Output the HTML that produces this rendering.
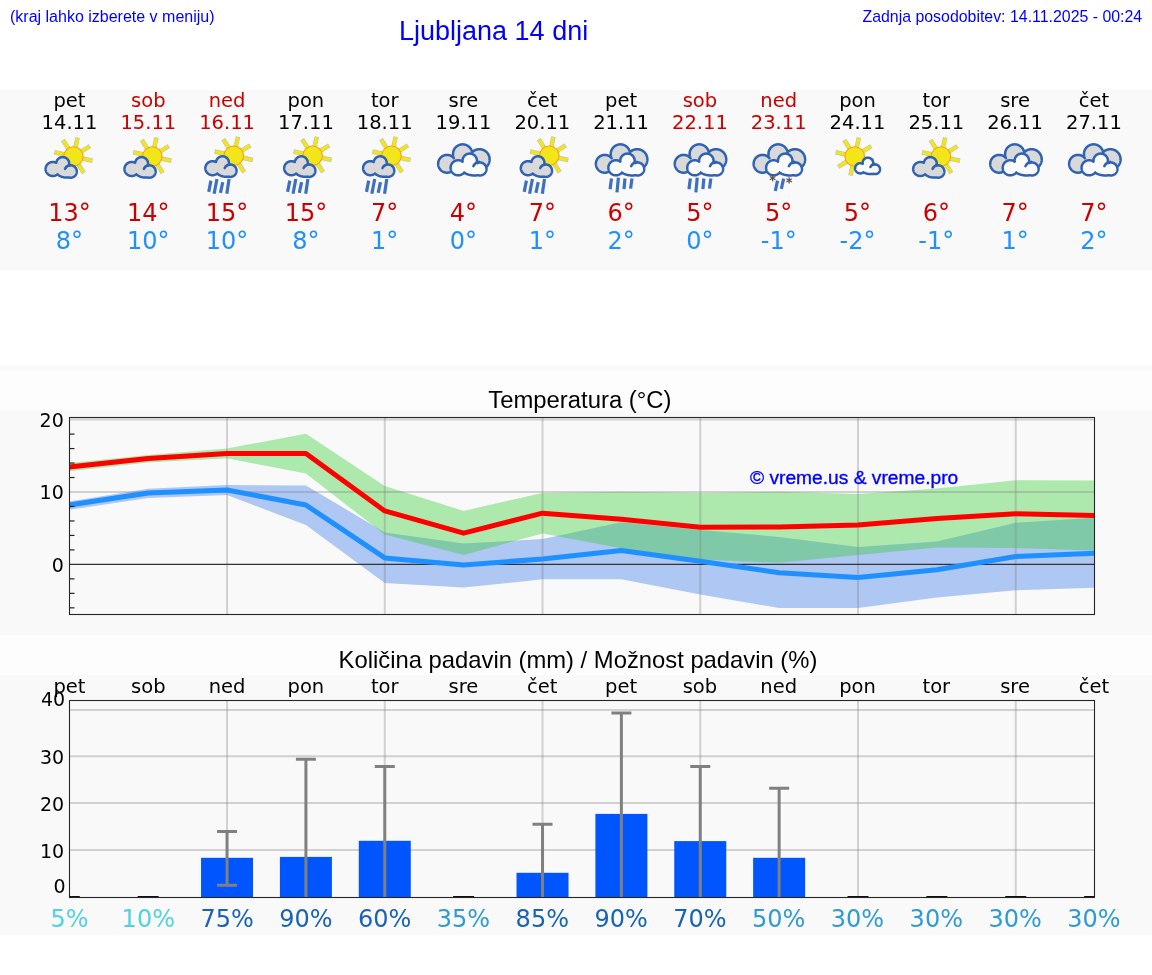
<!DOCTYPE html>
<html><head><meta charset="utf-8"><title>Ljubljana 14 dni</title>
<style>
html,body{margin:0;padding:0}
body{width:1152px;height:975px;position:relative;overflow:hidden;background:#fff;font-family:"Liberation Sans",Arial,sans-serif}
.a{position:absolute;white-space:nowrap;line-height:1}
.band{position:absolute;left:0;width:1152px;background:#f9f9f9}
.c{position:absolute;width:78.8px;text-align:center;font-family:"DejaVu Sans",sans-serif;white-space:nowrap}
.d{top:89.5px;font-size:19.5px;line-height:22px}
.t{top:199px;font-size:24px;line-height:28px}
.pd{top:675.5px;font-size:19.5px;line-height:22px;color:#000}
.pp{top:905px;font-size:24px;line-height:28px}
.tl{font-family:"DejaVu Sans",sans-serif;font-size:19px;fill:#000}
.cp{font-family:"Liberation Sans",Arial,sans-serif;font-size:19.2px;fill:#0000ff;stroke:#0000ff;stroke-width:0.35px}
svg{position:absolute;left:0;top:0}
</style></head><body>
<div id="root" style="position:absolute;left:0;top:0;width:1152px;height:975px;will-change:transform">
<div class="band" style="top:90px;height:180px"></div>
<div class="band" style="top:365px;height:5px"></div>
<div class="band" style="top:370px;height:40px;background:#fdfdfd"></div>
<div class="band" style="top:635px;height:40px;background:#fdfdfd"></div>
<div class="band" style="top:410px;height:225px"></div>
<div class="band" style="top:675px;height:260px"></div>
<div class="a" style="left:10px;top:9px;font-size:16px;color:#0000ff">(kraj lahko izberete v meniju)</div>
<div class="a" style="left:399px;top:18px;font-size:27px;color:#0000ff">Ljubljana 14 dni</div>
<div class="a" style="right:9.8px;top:9px;font-size:15.9px;color:#0000ff">Zadnja posodobitev: 14.11.2025 - 00:24</div>
<div class="a" style="left:488.3px;top:388.2px;font-size:23.85px;color:#000">Temperatura (°C)</div>
<div class="a" style="left:338.6px;top:648.2px;font-size:23.8px;color:#000">Količina padavin (mm) / Možnost padavin (%)</div>
<svg width="1152" height="975" viewBox="0 0 1152 975">
<g transform="translate(38.00,133)"><line x1="43.21" y1="25.25" x2="52.28" y2="27.27" stroke="#8c8c6a" stroke-width="4.5" stroke-opacity="0.5" stroke-linecap="square"/><line x1="43.21" y1="25.25" x2="52.28" y2="27.27" stroke="#f2e61a" stroke-width="3.3" stroke-linecap="square"/><line x1="39.69" y1="30.25" x2="44.67" y2="38.11" stroke="#8c8c6a" stroke-width="4.5" stroke-opacity="0.5" stroke-linecap="square"/><line x1="39.69" y1="30.25" x2="44.67" y2="38.11" stroke="#f2e61a" stroke-width="3.3" stroke-linecap="square"/><line x1="33.65" y1="31.31" x2="31.63" y2="40.38" stroke="#8c8c6a" stroke-width="4.5" stroke-opacity="0.5" stroke-linecap="square"/><line x1="33.65" y1="31.31" x2="31.63" y2="40.38" stroke="#f2e61a" stroke-width="3.3" stroke-linecap="square"/><line x1="28.65" y1="27.79" x2="20.79" y2="32.77" stroke="#8c8c6a" stroke-width="4.5" stroke-opacity="0.5" stroke-linecap="square"/><line x1="28.65" y1="27.79" x2="20.79" y2="32.77" stroke="#f2e61a" stroke-width="3.3" stroke-linecap="square"/><line x1="27.59" y1="21.75" x2="18.52" y2="19.73" stroke="#8c8c6a" stroke-width="4.5" stroke-opacity="0.5" stroke-linecap="square"/><line x1="27.59" y1="21.75" x2="18.52" y2="19.73" stroke="#f2e61a" stroke-width="3.3" stroke-linecap="square"/><line x1="31.11" y1="16.75" x2="26.13" y2="8.89" stroke="#8c8c6a" stroke-width="4.5" stroke-opacity="0.5" stroke-linecap="square"/><line x1="31.11" y1="16.75" x2="26.13" y2="8.89" stroke="#f2e61a" stroke-width="3.3" stroke-linecap="square"/><line x1="37.15" y1="15.69" x2="39.17" y2="6.62" stroke="#8c8c6a" stroke-width="4.5" stroke-opacity="0.5" stroke-linecap="square"/><line x1="37.15" y1="15.69" x2="39.17" y2="6.62" stroke="#f2e61a" stroke-width="3.3" stroke-linecap="square"/><line x1="42.15" y1="19.21" x2="50.01" y2="14.23" stroke="#8c8c6a" stroke-width="4.5" stroke-opacity="0.5" stroke-linecap="square"/><line x1="42.15" y1="19.21" x2="50.01" y2="14.23" stroke="#f2e61a" stroke-width="3.3" stroke-linecap="square"/><circle cx="35.4" cy="23.5" r="9.7" fill="#f2e61a" stroke="#f6a21e" stroke-width="1.1"/><path d="M31.17 29.96 L31.13 29.65 L31.08 29.33 L31.01 29.02 L30.92 28.71 L30.82 28.41 L30.71 28.11 L30.58 27.82 L30.43 27.54 L30.28 27.26 L30.10 26.99 L29.92 26.73 L29.72 26.48 L29.52 26.23 L29.30 26.00 L29.07 25.78 L28.82 25.58 L28.57 25.38 L28.31 25.20 L28.04 25.02 L27.76 24.87 L27.48 24.72 L27.19 24.59 L26.89 24.48 L26.59 24.38 L26.28 24.29 L25.97 24.22 L25.65 24.17 L25.34 24.13 L25.02 24.11 L24.70 24.10 L24.38 24.11 L24.06 24.13 L23.75 24.17 L23.43 24.22 L23.12 24.29 L22.81 24.38 L22.51 24.48 L22.21 24.59 L21.92 24.72 L21.64 24.87 L21.36 25.02 L21.09 25.20 L20.83 25.38 L20.58 25.58 L20.33 25.78 L20.10 26.00 L19.88 26.23 L19.68 26.48 L19.48 26.73 L19.30 26.99 L19.12 27.26 L18.97 27.54 L18.82 27.82 L18.69 28.11 L18.58 28.41 L18.48 28.71 L18.39 29.02 L18.32 29.33 L18.27 29.65 L18.24 29.85 L18.19 29.83 L17.88 29.67 L17.56 29.53 L17.23 29.41 L16.89 29.30 L16.55 29.21 L16.20 29.13 L15.86 29.08 L15.51 29.03 L15.15 29.01 L14.80 29.00 L14.45 29.01 L14.09 29.03 L13.74 29.08 L13.40 29.13 L13.05 29.21 L12.71 29.30 L12.37 29.41 L12.04 29.53 L11.72 29.67 L11.41 29.83 L11.10 30.00 L10.80 30.18 L10.51 30.38 L10.23 30.59 L9.96 30.81 L9.71 31.05 L9.47 31.30 L9.23 31.56 L9.02 31.83 L8.81 32.11 L8.62 32.40 L8.45 32.70 L8.29 33.01 L8.15 33.32 L8.02 33.64 L7.91 33.97 L7.82 34.30 L7.74 34.63 L7.68 34.97 L7.63 35.31 L7.61 35.66 L7.60 36.00 L7.61 36.34 L7.63 36.69 L7.68 37.03 L7.74 37.37 L7.82 37.70 L7.91 38.03 L8.02 38.36 L8.15 38.68 L8.29 38.99 L8.45 39.30 L8.62 39.60 L8.81 39.89 L9.02 40.17 L9.23 40.44 L9.47 40.70 L9.71 40.95 L9.96 41.19 L10.23 41.41 L10.51 41.62 L10.80 41.82 L11.10 42.00 L11.41 42.17 L11.72 42.33 L12.04 42.47 L12.37 42.59 L12.71 42.70 L13.05 42.79 L13.40 42.87 L13.74 42.92 L14.09 42.97 L14.45 42.99 L14.80 43.00 L15.15 42.99 L15.51 42.97 L15.86 42.92 L16.20 42.87 L16.55 42.79 L16.89 42.70 L17.23 42.59 L17.56 42.47 L17.88 42.33 L18.19 42.17 L18.50 42.00 L18.80 41.82 L19.09 41.62 L19.37 41.41 L19.64 41.19 L19.64 41.18 L19.70 41.26 L19.91 41.51 L20.15 41.76 L20.41 41.99 L20.69 42.23 L20.99 42.45 L21.30 42.66 L21.63 42.87 L21.99 43.06 L22.35 43.24 L22.73 43.42 L23.13 43.58 L23.54 43.73 L23.96 43.87 L24.39 44.00 L24.83 44.11 L25.28 44.21 L25.74 44.30 L26.21 44.38 L26.68 44.44 L27.15 44.49 L27.63 44.52 L28.12 44.54 L28.60 44.55 L29.08 44.54 L29.57 44.52 L30.05 44.49 L30.52 44.44 L30.74 44.41 L30.80 44.43 L31.09 44.51 L31.39 44.58 L31.69 44.63 L31.99 44.67 L32.30 44.69 L32.60 44.70 L32.90 44.69 L33.21 44.67 L33.51 44.63 L33.81 44.58 L34.11 44.51 L34.40 44.43 L34.69 44.34 L34.97 44.23 L35.25 44.10 L35.52 43.97 L35.79 43.82 L36.04 43.66 L36.29 43.48 L36.53 43.29 L36.76 43.09 L36.98 42.88 L37.19 42.66 L37.39 42.43 L37.58 42.19 L37.76 41.94 L37.92 41.69 L38.07 41.42 L38.20 41.15 L38.33 40.87 L38.44 40.59 L38.53 40.30 L38.61 40.01 L38.68 39.71 L38.73 39.41 L38.77 39.11 L38.79 38.80 L38.80 38.50 L38.79 38.20 L38.77 37.89 L38.73 37.59 L38.68 37.29 L38.61 36.99 L38.53 36.70 L38.44 36.41 L38.33 36.13 L38.20 35.85 L38.07 35.58 L37.92 35.31 L37.76 35.06 L37.58 34.81 L37.39 34.57 L37.19 34.34 L36.98 34.12 L36.76 33.91 L36.53 33.71 L36.29 33.52 L36.04 33.34 L35.79 33.18 L35.52 33.03 L35.25 32.90 L34.97 32.77 L34.69 32.66 L34.40 32.57 L34.11 32.49 L33.81 32.42 L33.51 32.37 L33.21 32.33 L32.90 32.31 L32.60 32.30 L32.30 32.31 L31.99 32.33 L31.69 32.37 L31.39 32.42 L31.09 32.49 L30.90 32.54 L30.92 32.49 L31.01 32.18 L31.08 31.87 L31.13 31.55 L31.17 31.24 L31.19 30.92 L31.20 30.60 L31.19 30.28 L31.17 29.96Z" fill="#d9d9d9" stroke="#2f62b3" stroke-width="2.5" stroke-linejoin="round"/><path d="M26.98 35.88 A6.2 6.2 0 0 1 31.74 32.36" fill="none" stroke="#2f62b3" stroke-width="2.5" stroke-linecap="round"/></g><g transform="translate(116.87,133)"><line x1="43.21" y1="25.25" x2="52.28" y2="27.27" stroke="#8c8c6a" stroke-width="4.5" stroke-opacity="0.5" stroke-linecap="square"/><line x1="43.21" y1="25.25" x2="52.28" y2="27.27" stroke="#f2e61a" stroke-width="3.3" stroke-linecap="square"/><line x1="39.69" y1="30.25" x2="44.67" y2="38.11" stroke="#8c8c6a" stroke-width="4.5" stroke-opacity="0.5" stroke-linecap="square"/><line x1="39.69" y1="30.25" x2="44.67" y2="38.11" stroke="#f2e61a" stroke-width="3.3" stroke-linecap="square"/><line x1="33.65" y1="31.31" x2="31.63" y2="40.38" stroke="#8c8c6a" stroke-width="4.5" stroke-opacity="0.5" stroke-linecap="square"/><line x1="33.65" y1="31.31" x2="31.63" y2="40.38" stroke="#f2e61a" stroke-width="3.3" stroke-linecap="square"/><line x1="28.65" y1="27.79" x2="20.79" y2="32.77" stroke="#8c8c6a" stroke-width="4.5" stroke-opacity="0.5" stroke-linecap="square"/><line x1="28.65" y1="27.79" x2="20.79" y2="32.77" stroke="#f2e61a" stroke-width="3.3" stroke-linecap="square"/><line x1="27.59" y1="21.75" x2="18.52" y2="19.73" stroke="#8c8c6a" stroke-width="4.5" stroke-opacity="0.5" stroke-linecap="square"/><line x1="27.59" y1="21.75" x2="18.52" y2="19.73" stroke="#f2e61a" stroke-width="3.3" stroke-linecap="square"/><line x1="31.11" y1="16.75" x2="26.13" y2="8.89" stroke="#8c8c6a" stroke-width="4.5" stroke-opacity="0.5" stroke-linecap="square"/><line x1="31.11" y1="16.75" x2="26.13" y2="8.89" stroke="#f2e61a" stroke-width="3.3" stroke-linecap="square"/><line x1="37.15" y1="15.69" x2="39.17" y2="6.62" stroke="#8c8c6a" stroke-width="4.5" stroke-opacity="0.5" stroke-linecap="square"/><line x1="37.15" y1="15.69" x2="39.17" y2="6.62" stroke="#f2e61a" stroke-width="3.3" stroke-linecap="square"/><line x1="42.15" y1="19.21" x2="50.01" y2="14.23" stroke="#8c8c6a" stroke-width="4.5" stroke-opacity="0.5" stroke-linecap="square"/><line x1="42.15" y1="19.21" x2="50.01" y2="14.23" stroke="#f2e61a" stroke-width="3.3" stroke-linecap="square"/><circle cx="35.4" cy="23.5" r="9.7" fill="#f2e61a" stroke="#f6a21e" stroke-width="1.1"/><path d="M31.17 29.96 L31.13 29.65 L31.08 29.33 L31.01 29.02 L30.92 28.71 L30.82 28.41 L30.71 28.11 L30.58 27.82 L30.43 27.54 L30.28 27.26 L30.10 26.99 L29.92 26.73 L29.72 26.48 L29.52 26.23 L29.30 26.00 L29.07 25.78 L28.82 25.58 L28.57 25.38 L28.31 25.20 L28.04 25.02 L27.76 24.87 L27.48 24.72 L27.19 24.59 L26.89 24.48 L26.59 24.38 L26.28 24.29 L25.97 24.22 L25.65 24.17 L25.34 24.13 L25.02 24.11 L24.70 24.10 L24.38 24.11 L24.06 24.13 L23.75 24.17 L23.43 24.22 L23.12 24.29 L22.81 24.38 L22.51 24.48 L22.21 24.59 L21.92 24.72 L21.64 24.87 L21.36 25.02 L21.09 25.20 L20.83 25.38 L20.58 25.58 L20.33 25.78 L20.10 26.00 L19.88 26.23 L19.68 26.48 L19.48 26.73 L19.30 26.99 L19.12 27.26 L18.97 27.54 L18.82 27.82 L18.69 28.11 L18.58 28.41 L18.48 28.71 L18.39 29.02 L18.32 29.33 L18.27 29.65 L18.24 29.85 L18.19 29.83 L17.88 29.67 L17.56 29.53 L17.23 29.41 L16.89 29.30 L16.55 29.21 L16.20 29.13 L15.86 29.08 L15.51 29.03 L15.15 29.01 L14.80 29.00 L14.45 29.01 L14.09 29.03 L13.74 29.08 L13.40 29.13 L13.05 29.21 L12.71 29.30 L12.37 29.41 L12.04 29.53 L11.72 29.67 L11.41 29.83 L11.10 30.00 L10.80 30.18 L10.51 30.38 L10.23 30.59 L9.96 30.81 L9.71 31.05 L9.47 31.30 L9.23 31.56 L9.02 31.83 L8.81 32.11 L8.62 32.40 L8.45 32.70 L8.29 33.01 L8.15 33.32 L8.02 33.64 L7.91 33.97 L7.82 34.30 L7.74 34.63 L7.68 34.97 L7.63 35.31 L7.61 35.66 L7.60 36.00 L7.61 36.34 L7.63 36.69 L7.68 37.03 L7.74 37.37 L7.82 37.70 L7.91 38.03 L8.02 38.36 L8.15 38.68 L8.29 38.99 L8.45 39.30 L8.62 39.60 L8.81 39.89 L9.02 40.17 L9.23 40.44 L9.47 40.70 L9.71 40.95 L9.96 41.19 L10.23 41.41 L10.51 41.62 L10.80 41.82 L11.10 42.00 L11.41 42.17 L11.72 42.33 L12.04 42.47 L12.37 42.59 L12.71 42.70 L13.05 42.79 L13.40 42.87 L13.74 42.92 L14.09 42.97 L14.45 42.99 L14.80 43.00 L15.15 42.99 L15.51 42.97 L15.86 42.92 L16.20 42.87 L16.55 42.79 L16.89 42.70 L17.23 42.59 L17.56 42.47 L17.88 42.33 L18.19 42.17 L18.50 42.00 L18.80 41.82 L19.09 41.62 L19.37 41.41 L19.64 41.19 L19.64 41.18 L19.70 41.26 L19.91 41.51 L20.15 41.76 L20.41 41.99 L20.69 42.23 L20.99 42.45 L21.30 42.66 L21.63 42.87 L21.99 43.06 L22.35 43.24 L22.73 43.42 L23.13 43.58 L23.54 43.73 L23.96 43.87 L24.39 44.00 L24.83 44.11 L25.28 44.21 L25.74 44.30 L26.21 44.38 L26.68 44.44 L27.15 44.49 L27.63 44.52 L28.12 44.54 L28.60 44.55 L29.08 44.54 L29.57 44.52 L30.05 44.49 L30.52 44.44 L30.74 44.41 L30.80 44.43 L31.09 44.51 L31.39 44.58 L31.69 44.63 L31.99 44.67 L32.30 44.69 L32.60 44.70 L32.90 44.69 L33.21 44.67 L33.51 44.63 L33.81 44.58 L34.11 44.51 L34.40 44.43 L34.69 44.34 L34.97 44.23 L35.25 44.10 L35.52 43.97 L35.79 43.82 L36.04 43.66 L36.29 43.48 L36.53 43.29 L36.76 43.09 L36.98 42.88 L37.19 42.66 L37.39 42.43 L37.58 42.19 L37.76 41.94 L37.92 41.69 L38.07 41.42 L38.20 41.15 L38.33 40.87 L38.44 40.59 L38.53 40.30 L38.61 40.01 L38.68 39.71 L38.73 39.41 L38.77 39.11 L38.79 38.80 L38.80 38.50 L38.79 38.20 L38.77 37.89 L38.73 37.59 L38.68 37.29 L38.61 36.99 L38.53 36.70 L38.44 36.41 L38.33 36.13 L38.20 35.85 L38.07 35.58 L37.92 35.31 L37.76 35.06 L37.58 34.81 L37.39 34.57 L37.19 34.34 L36.98 34.12 L36.76 33.91 L36.53 33.71 L36.29 33.52 L36.04 33.34 L35.79 33.18 L35.52 33.03 L35.25 32.90 L34.97 32.77 L34.69 32.66 L34.40 32.57 L34.11 32.49 L33.81 32.42 L33.51 32.37 L33.21 32.33 L32.90 32.31 L32.60 32.30 L32.30 32.31 L31.99 32.33 L31.69 32.37 L31.39 32.42 L31.09 32.49 L30.90 32.54 L30.92 32.49 L31.01 32.18 L31.08 31.87 L31.13 31.55 L31.17 31.24 L31.19 30.92 L31.20 30.60 L31.19 30.28 L31.17 29.96Z" fill="#d9d9d9" stroke="#2f62b3" stroke-width="2.5" stroke-linejoin="round"/><path d="M26.98 35.88 A6.2 6.2 0 0 1 31.74 32.36" fill="none" stroke="#2f62b3" stroke-width="2.5" stroke-linecap="round"/></g><g transform="translate(195.74,133)"><g transform="translate(2,-0.8)"><line x1="43.81" y1="25.35" x2="52.88" y2="27.37" stroke="#8c8c6a" stroke-width="4.5" stroke-opacity="0.5" stroke-linecap="square"/><line x1="43.81" y1="25.35" x2="52.88" y2="27.37" stroke="#f2e61a" stroke-width="3.3" stroke-linecap="square"/><line x1="40.29" y1="30.35" x2="45.27" y2="38.21" stroke="#8c8c6a" stroke-width="4.5" stroke-opacity="0.5" stroke-linecap="square"/><line x1="40.29" y1="30.35" x2="45.27" y2="38.21" stroke="#f2e61a" stroke-width="3.3" stroke-linecap="square"/><line x1="34.25" y1="31.41" x2="32.23" y2="40.48" stroke="#8c8c6a" stroke-width="4.5" stroke-opacity="0.5" stroke-linecap="square"/><line x1="34.25" y1="31.41" x2="32.23" y2="40.48" stroke="#f2e61a" stroke-width="3.3" stroke-linecap="square"/><line x1="29.25" y1="27.89" x2="21.39" y2="32.87" stroke="#8c8c6a" stroke-width="4.5" stroke-opacity="0.5" stroke-linecap="square"/><line x1="29.25" y1="27.89" x2="21.39" y2="32.87" stroke="#f2e61a" stroke-width="3.3" stroke-linecap="square"/><line x1="28.19" y1="21.85" x2="19.12" y2="19.83" stroke="#8c8c6a" stroke-width="4.5" stroke-opacity="0.5" stroke-linecap="square"/><line x1="28.19" y1="21.85" x2="19.12" y2="19.83" stroke="#f2e61a" stroke-width="3.3" stroke-linecap="square"/><line x1="31.71" y1="16.85" x2="26.73" y2="8.99" stroke="#8c8c6a" stroke-width="4.5" stroke-opacity="0.5" stroke-linecap="square"/><line x1="31.71" y1="16.85" x2="26.73" y2="8.99" stroke="#f2e61a" stroke-width="3.3" stroke-linecap="square"/><line x1="37.75" y1="15.79" x2="39.77" y2="6.72" stroke="#8c8c6a" stroke-width="4.5" stroke-opacity="0.5" stroke-linecap="square"/><line x1="37.75" y1="15.79" x2="39.77" y2="6.72" stroke="#f2e61a" stroke-width="3.3" stroke-linecap="square"/><line x1="42.75" y1="19.31" x2="50.61" y2="14.33" stroke="#8c8c6a" stroke-width="4.5" stroke-opacity="0.5" stroke-linecap="square"/><line x1="42.75" y1="19.31" x2="50.61" y2="14.33" stroke="#f2e61a" stroke-width="3.3" stroke-linecap="square"/><circle cx="36.0" cy="23.6" r="9.8" fill="#f2e61a" stroke="#f6a21e" stroke-width="1.1"/><path d="M31.17 29.96 L31.13 29.65 L31.08 29.33 L31.01 29.02 L30.92 28.71 L30.82 28.41 L30.71 28.11 L30.58 27.82 L30.43 27.54 L30.28 27.26 L30.10 26.99 L29.92 26.73 L29.72 26.48 L29.52 26.23 L29.30 26.00 L29.07 25.78 L28.82 25.58 L28.57 25.38 L28.31 25.20 L28.04 25.02 L27.76 24.87 L27.48 24.72 L27.19 24.59 L26.89 24.48 L26.59 24.38 L26.28 24.29 L25.97 24.22 L25.65 24.17 L25.34 24.13 L25.02 24.11 L24.70 24.10 L24.38 24.11 L24.06 24.13 L23.75 24.17 L23.43 24.22 L23.12 24.29 L22.81 24.38 L22.51 24.48 L22.21 24.59 L21.92 24.72 L21.64 24.87 L21.36 25.02 L21.09 25.20 L20.83 25.38 L20.58 25.58 L20.33 25.78 L20.10 26.00 L19.88 26.23 L19.68 26.48 L19.48 26.73 L19.30 26.99 L19.12 27.26 L18.97 27.54 L18.82 27.82 L18.69 28.11 L18.58 28.41 L18.48 28.71 L18.39 29.02 L18.32 29.33 L18.27 29.65 L18.24 29.85 L18.19 29.83 L17.88 29.67 L17.56 29.53 L17.23 29.41 L16.89 29.30 L16.55 29.21 L16.20 29.13 L15.86 29.08 L15.51 29.03 L15.15 29.01 L14.80 29.00 L14.45 29.01 L14.09 29.03 L13.74 29.08 L13.40 29.13 L13.05 29.21 L12.71 29.30 L12.37 29.41 L12.04 29.53 L11.72 29.67 L11.41 29.83 L11.10 30.00 L10.80 30.18 L10.51 30.38 L10.23 30.59 L9.96 30.81 L9.71 31.05 L9.47 31.30 L9.23 31.56 L9.02 31.83 L8.81 32.11 L8.62 32.40 L8.45 32.70 L8.29 33.01 L8.15 33.32 L8.02 33.64 L7.91 33.97 L7.82 34.30 L7.74 34.63 L7.68 34.97 L7.63 35.31 L7.61 35.66 L7.60 36.00 L7.61 36.34 L7.63 36.69 L7.68 37.03 L7.74 37.37 L7.82 37.70 L7.91 38.03 L8.02 38.36 L8.15 38.68 L8.29 38.99 L8.45 39.30 L8.62 39.60 L8.81 39.89 L9.02 40.17 L9.23 40.44 L9.47 40.70 L9.71 40.95 L9.96 41.19 L10.23 41.41 L10.51 41.62 L10.80 41.82 L11.10 42.00 L11.41 42.17 L11.72 42.33 L12.04 42.47 L12.37 42.59 L12.71 42.70 L13.05 42.79 L13.40 42.87 L13.74 42.92 L14.09 42.97 L14.45 42.99 L14.80 43.00 L15.15 42.99 L15.51 42.97 L15.86 42.92 L16.20 42.87 L16.55 42.79 L16.89 42.70 L17.23 42.59 L17.56 42.47 L17.88 42.33 L18.19 42.17 L18.50 42.00 L18.80 41.82 L19.09 41.62 L19.37 41.41 L19.64 41.19 L19.64 41.18 L19.70 41.26 L19.91 41.51 L20.15 41.76 L20.41 41.99 L20.69 42.23 L20.99 42.45 L21.30 42.66 L21.63 42.87 L21.99 43.06 L22.35 43.24 L22.73 43.42 L23.13 43.58 L23.54 43.73 L23.96 43.87 L24.39 44.00 L24.83 44.11 L25.28 44.21 L25.74 44.30 L26.21 44.38 L26.68 44.44 L27.15 44.49 L27.63 44.52 L28.12 44.54 L28.60 44.55 L29.08 44.54 L29.57 44.52 L30.05 44.49 L30.52 44.44 L30.74 44.41 L30.80 44.43 L31.09 44.51 L31.39 44.58 L31.69 44.63 L31.99 44.67 L32.30 44.69 L32.60 44.70 L32.90 44.69 L33.21 44.67 L33.51 44.63 L33.81 44.58 L34.11 44.51 L34.40 44.43 L34.69 44.34 L34.97 44.23 L35.25 44.10 L35.52 43.97 L35.79 43.82 L36.04 43.66 L36.29 43.48 L36.53 43.29 L36.76 43.09 L36.98 42.88 L37.19 42.66 L37.39 42.43 L37.58 42.19 L37.76 41.94 L37.92 41.69 L38.07 41.42 L38.20 41.15 L38.33 40.87 L38.44 40.59 L38.53 40.30 L38.61 40.01 L38.68 39.71 L38.73 39.41 L38.77 39.11 L38.79 38.80 L38.80 38.50 L38.79 38.20 L38.77 37.89 L38.73 37.59 L38.68 37.29 L38.61 36.99 L38.53 36.70 L38.44 36.41 L38.33 36.13 L38.20 35.85 L38.07 35.58 L37.92 35.31 L37.76 35.06 L37.58 34.81 L37.39 34.57 L37.19 34.34 L36.98 34.12 L36.76 33.91 L36.53 33.71 L36.29 33.52 L36.04 33.34 L35.79 33.18 L35.52 33.03 L35.25 32.90 L34.97 32.77 L34.69 32.66 L34.40 32.57 L34.11 32.49 L33.81 32.42 L33.51 32.37 L33.21 32.33 L32.90 32.31 L32.60 32.30 L32.30 32.31 L31.99 32.33 L31.69 32.37 L31.39 32.42 L31.09 32.49 L30.90 32.54 L30.92 32.49 L31.01 32.18 L31.08 31.87 L31.13 31.55 L31.17 31.24 L31.19 30.92 L31.20 30.60 L31.19 30.28 L31.17 29.96Z" fill="#d9d9d9" stroke="#2f62b3" stroke-width="2.5" stroke-linejoin="round"/><path d="M26.98 35.88 A6.2 6.2 0 0 1 31.74 32.36" fill="none" stroke="#2f62b3" stroke-width="2.5" stroke-linecap="round"/></g><line x1="15.2" y1="47.6" x2="13.0" y2="58.9" stroke="#3f70c0" stroke-width="3.2" stroke-linecap="butt"/><line x1="21.2" y1="46.0" x2="18.4" y2="60.8" stroke="#3f70c0" stroke-width="3.2" stroke-linecap="butt"/><line x1="27.0" y1="49.2" x2="24.7" y2="59.9" stroke="#3f70c0" stroke-width="3.2" stroke-linecap="butt"/><line x1="33.3" y1="46.0" x2="31.1" y2="60.8" stroke="#3f70c0" stroke-width="3.2" stroke-linecap="butt"/></g><g transform="translate(274.61,133)"><g transform="translate(2,-0.8)"><line x1="43.81" y1="25.35" x2="52.88" y2="27.37" stroke="#8c8c6a" stroke-width="4.5" stroke-opacity="0.5" stroke-linecap="square"/><line x1="43.81" y1="25.35" x2="52.88" y2="27.37" stroke="#f2e61a" stroke-width="3.3" stroke-linecap="square"/><line x1="40.29" y1="30.35" x2="45.27" y2="38.21" stroke="#8c8c6a" stroke-width="4.5" stroke-opacity="0.5" stroke-linecap="square"/><line x1="40.29" y1="30.35" x2="45.27" y2="38.21" stroke="#f2e61a" stroke-width="3.3" stroke-linecap="square"/><line x1="34.25" y1="31.41" x2="32.23" y2="40.48" stroke="#8c8c6a" stroke-width="4.5" stroke-opacity="0.5" stroke-linecap="square"/><line x1="34.25" y1="31.41" x2="32.23" y2="40.48" stroke="#f2e61a" stroke-width="3.3" stroke-linecap="square"/><line x1="29.25" y1="27.89" x2="21.39" y2="32.87" stroke="#8c8c6a" stroke-width="4.5" stroke-opacity="0.5" stroke-linecap="square"/><line x1="29.25" y1="27.89" x2="21.39" y2="32.87" stroke="#f2e61a" stroke-width="3.3" stroke-linecap="square"/><line x1="28.19" y1="21.85" x2="19.12" y2="19.83" stroke="#8c8c6a" stroke-width="4.5" stroke-opacity="0.5" stroke-linecap="square"/><line x1="28.19" y1="21.85" x2="19.12" y2="19.83" stroke="#f2e61a" stroke-width="3.3" stroke-linecap="square"/><line x1="31.71" y1="16.85" x2="26.73" y2="8.99" stroke="#8c8c6a" stroke-width="4.5" stroke-opacity="0.5" stroke-linecap="square"/><line x1="31.71" y1="16.85" x2="26.73" y2="8.99" stroke="#f2e61a" stroke-width="3.3" stroke-linecap="square"/><line x1="37.75" y1="15.79" x2="39.77" y2="6.72" stroke="#8c8c6a" stroke-width="4.5" stroke-opacity="0.5" stroke-linecap="square"/><line x1="37.75" y1="15.79" x2="39.77" y2="6.72" stroke="#f2e61a" stroke-width="3.3" stroke-linecap="square"/><line x1="42.75" y1="19.31" x2="50.61" y2="14.33" stroke="#8c8c6a" stroke-width="4.5" stroke-opacity="0.5" stroke-linecap="square"/><line x1="42.75" y1="19.31" x2="50.61" y2="14.33" stroke="#f2e61a" stroke-width="3.3" stroke-linecap="square"/><circle cx="36.0" cy="23.6" r="9.8" fill="#f2e61a" stroke="#f6a21e" stroke-width="1.1"/><path d="M31.17 29.96 L31.13 29.65 L31.08 29.33 L31.01 29.02 L30.92 28.71 L30.82 28.41 L30.71 28.11 L30.58 27.82 L30.43 27.54 L30.28 27.26 L30.10 26.99 L29.92 26.73 L29.72 26.48 L29.52 26.23 L29.30 26.00 L29.07 25.78 L28.82 25.58 L28.57 25.38 L28.31 25.20 L28.04 25.02 L27.76 24.87 L27.48 24.72 L27.19 24.59 L26.89 24.48 L26.59 24.38 L26.28 24.29 L25.97 24.22 L25.65 24.17 L25.34 24.13 L25.02 24.11 L24.70 24.10 L24.38 24.11 L24.06 24.13 L23.75 24.17 L23.43 24.22 L23.12 24.29 L22.81 24.38 L22.51 24.48 L22.21 24.59 L21.92 24.72 L21.64 24.87 L21.36 25.02 L21.09 25.20 L20.83 25.38 L20.58 25.58 L20.33 25.78 L20.10 26.00 L19.88 26.23 L19.68 26.48 L19.48 26.73 L19.30 26.99 L19.12 27.26 L18.97 27.54 L18.82 27.82 L18.69 28.11 L18.58 28.41 L18.48 28.71 L18.39 29.02 L18.32 29.33 L18.27 29.65 L18.24 29.85 L18.19 29.83 L17.88 29.67 L17.56 29.53 L17.23 29.41 L16.89 29.30 L16.55 29.21 L16.20 29.13 L15.86 29.08 L15.51 29.03 L15.15 29.01 L14.80 29.00 L14.45 29.01 L14.09 29.03 L13.74 29.08 L13.40 29.13 L13.05 29.21 L12.71 29.30 L12.37 29.41 L12.04 29.53 L11.72 29.67 L11.41 29.83 L11.10 30.00 L10.80 30.18 L10.51 30.38 L10.23 30.59 L9.96 30.81 L9.71 31.05 L9.47 31.30 L9.23 31.56 L9.02 31.83 L8.81 32.11 L8.62 32.40 L8.45 32.70 L8.29 33.01 L8.15 33.32 L8.02 33.64 L7.91 33.97 L7.82 34.30 L7.74 34.63 L7.68 34.97 L7.63 35.31 L7.61 35.66 L7.60 36.00 L7.61 36.34 L7.63 36.69 L7.68 37.03 L7.74 37.37 L7.82 37.70 L7.91 38.03 L8.02 38.36 L8.15 38.68 L8.29 38.99 L8.45 39.30 L8.62 39.60 L8.81 39.89 L9.02 40.17 L9.23 40.44 L9.47 40.70 L9.71 40.95 L9.96 41.19 L10.23 41.41 L10.51 41.62 L10.80 41.82 L11.10 42.00 L11.41 42.17 L11.72 42.33 L12.04 42.47 L12.37 42.59 L12.71 42.70 L13.05 42.79 L13.40 42.87 L13.74 42.92 L14.09 42.97 L14.45 42.99 L14.80 43.00 L15.15 42.99 L15.51 42.97 L15.86 42.92 L16.20 42.87 L16.55 42.79 L16.89 42.70 L17.23 42.59 L17.56 42.47 L17.88 42.33 L18.19 42.17 L18.50 42.00 L18.80 41.82 L19.09 41.62 L19.37 41.41 L19.64 41.19 L19.64 41.18 L19.70 41.26 L19.91 41.51 L20.15 41.76 L20.41 41.99 L20.69 42.23 L20.99 42.45 L21.30 42.66 L21.63 42.87 L21.99 43.06 L22.35 43.24 L22.73 43.42 L23.13 43.58 L23.54 43.73 L23.96 43.87 L24.39 44.00 L24.83 44.11 L25.28 44.21 L25.74 44.30 L26.21 44.38 L26.68 44.44 L27.15 44.49 L27.63 44.52 L28.12 44.54 L28.60 44.55 L29.08 44.54 L29.57 44.52 L30.05 44.49 L30.52 44.44 L30.74 44.41 L30.80 44.43 L31.09 44.51 L31.39 44.58 L31.69 44.63 L31.99 44.67 L32.30 44.69 L32.60 44.70 L32.90 44.69 L33.21 44.67 L33.51 44.63 L33.81 44.58 L34.11 44.51 L34.40 44.43 L34.69 44.34 L34.97 44.23 L35.25 44.10 L35.52 43.97 L35.79 43.82 L36.04 43.66 L36.29 43.48 L36.53 43.29 L36.76 43.09 L36.98 42.88 L37.19 42.66 L37.39 42.43 L37.58 42.19 L37.76 41.94 L37.92 41.69 L38.07 41.42 L38.20 41.15 L38.33 40.87 L38.44 40.59 L38.53 40.30 L38.61 40.01 L38.68 39.71 L38.73 39.41 L38.77 39.11 L38.79 38.80 L38.80 38.50 L38.79 38.20 L38.77 37.89 L38.73 37.59 L38.68 37.29 L38.61 36.99 L38.53 36.70 L38.44 36.41 L38.33 36.13 L38.20 35.85 L38.07 35.58 L37.92 35.31 L37.76 35.06 L37.58 34.81 L37.39 34.57 L37.19 34.34 L36.98 34.12 L36.76 33.91 L36.53 33.71 L36.29 33.52 L36.04 33.34 L35.79 33.18 L35.52 33.03 L35.25 32.90 L34.97 32.77 L34.69 32.66 L34.40 32.57 L34.11 32.49 L33.81 32.42 L33.51 32.37 L33.21 32.33 L32.90 32.31 L32.60 32.30 L32.30 32.31 L31.99 32.33 L31.69 32.37 L31.39 32.42 L31.09 32.49 L30.90 32.54 L30.92 32.49 L31.01 32.18 L31.08 31.87 L31.13 31.55 L31.17 31.24 L31.19 30.92 L31.20 30.60 L31.19 30.28 L31.17 29.96Z" fill="#d9d9d9" stroke="#2f62b3" stroke-width="2.5" stroke-linejoin="round"/><path d="M26.98 35.88 A6.2 6.2 0 0 1 31.74 32.36" fill="none" stroke="#2f62b3" stroke-width="2.5" stroke-linecap="round"/></g><line x1="15.2" y1="47.6" x2="13.0" y2="58.9" stroke="#3f70c0" stroke-width="3.2" stroke-linecap="butt"/><line x1="21.2" y1="46.0" x2="18.4" y2="60.8" stroke="#3f70c0" stroke-width="3.2" stroke-linecap="butt"/><line x1="27.0" y1="49.2" x2="24.7" y2="59.9" stroke="#3f70c0" stroke-width="3.2" stroke-linecap="butt"/><line x1="33.3" y1="46.0" x2="31.1" y2="60.8" stroke="#3f70c0" stroke-width="3.2" stroke-linecap="butt"/></g><g transform="translate(353.48,133)"><g transform="translate(2,-0.8)"><line x1="43.81" y1="25.35" x2="52.88" y2="27.37" stroke="#8c8c6a" stroke-width="4.5" stroke-opacity="0.5" stroke-linecap="square"/><line x1="43.81" y1="25.35" x2="52.88" y2="27.37" stroke="#f2e61a" stroke-width="3.3" stroke-linecap="square"/><line x1="40.29" y1="30.35" x2="45.27" y2="38.21" stroke="#8c8c6a" stroke-width="4.5" stroke-opacity="0.5" stroke-linecap="square"/><line x1="40.29" y1="30.35" x2="45.27" y2="38.21" stroke="#f2e61a" stroke-width="3.3" stroke-linecap="square"/><line x1="34.25" y1="31.41" x2="32.23" y2="40.48" stroke="#8c8c6a" stroke-width="4.5" stroke-opacity="0.5" stroke-linecap="square"/><line x1="34.25" y1="31.41" x2="32.23" y2="40.48" stroke="#f2e61a" stroke-width="3.3" stroke-linecap="square"/><line x1="29.25" y1="27.89" x2="21.39" y2="32.87" stroke="#8c8c6a" stroke-width="4.5" stroke-opacity="0.5" stroke-linecap="square"/><line x1="29.25" y1="27.89" x2="21.39" y2="32.87" stroke="#f2e61a" stroke-width="3.3" stroke-linecap="square"/><line x1="28.19" y1="21.85" x2="19.12" y2="19.83" stroke="#8c8c6a" stroke-width="4.5" stroke-opacity="0.5" stroke-linecap="square"/><line x1="28.19" y1="21.85" x2="19.12" y2="19.83" stroke="#f2e61a" stroke-width="3.3" stroke-linecap="square"/><line x1="31.71" y1="16.85" x2="26.73" y2="8.99" stroke="#8c8c6a" stroke-width="4.5" stroke-opacity="0.5" stroke-linecap="square"/><line x1="31.71" y1="16.85" x2="26.73" y2="8.99" stroke="#f2e61a" stroke-width="3.3" stroke-linecap="square"/><line x1="37.75" y1="15.79" x2="39.77" y2="6.72" stroke="#8c8c6a" stroke-width="4.5" stroke-opacity="0.5" stroke-linecap="square"/><line x1="37.75" y1="15.79" x2="39.77" y2="6.72" stroke="#f2e61a" stroke-width="3.3" stroke-linecap="square"/><line x1="42.75" y1="19.31" x2="50.61" y2="14.33" stroke="#8c8c6a" stroke-width="4.5" stroke-opacity="0.5" stroke-linecap="square"/><line x1="42.75" y1="19.31" x2="50.61" y2="14.33" stroke="#f2e61a" stroke-width="3.3" stroke-linecap="square"/><circle cx="36.0" cy="23.6" r="9.8" fill="#f2e61a" stroke="#f6a21e" stroke-width="1.1"/><path d="M31.17 29.96 L31.13 29.65 L31.08 29.33 L31.01 29.02 L30.92 28.71 L30.82 28.41 L30.71 28.11 L30.58 27.82 L30.43 27.54 L30.28 27.26 L30.10 26.99 L29.92 26.73 L29.72 26.48 L29.52 26.23 L29.30 26.00 L29.07 25.78 L28.82 25.58 L28.57 25.38 L28.31 25.20 L28.04 25.02 L27.76 24.87 L27.48 24.72 L27.19 24.59 L26.89 24.48 L26.59 24.38 L26.28 24.29 L25.97 24.22 L25.65 24.17 L25.34 24.13 L25.02 24.11 L24.70 24.10 L24.38 24.11 L24.06 24.13 L23.75 24.17 L23.43 24.22 L23.12 24.29 L22.81 24.38 L22.51 24.48 L22.21 24.59 L21.92 24.72 L21.64 24.87 L21.36 25.02 L21.09 25.20 L20.83 25.38 L20.58 25.58 L20.33 25.78 L20.10 26.00 L19.88 26.23 L19.68 26.48 L19.48 26.73 L19.30 26.99 L19.12 27.26 L18.97 27.54 L18.82 27.82 L18.69 28.11 L18.58 28.41 L18.48 28.71 L18.39 29.02 L18.32 29.33 L18.27 29.65 L18.24 29.85 L18.19 29.83 L17.88 29.67 L17.56 29.53 L17.23 29.41 L16.89 29.30 L16.55 29.21 L16.20 29.13 L15.86 29.08 L15.51 29.03 L15.15 29.01 L14.80 29.00 L14.45 29.01 L14.09 29.03 L13.74 29.08 L13.40 29.13 L13.05 29.21 L12.71 29.30 L12.37 29.41 L12.04 29.53 L11.72 29.67 L11.41 29.83 L11.10 30.00 L10.80 30.18 L10.51 30.38 L10.23 30.59 L9.96 30.81 L9.71 31.05 L9.47 31.30 L9.23 31.56 L9.02 31.83 L8.81 32.11 L8.62 32.40 L8.45 32.70 L8.29 33.01 L8.15 33.32 L8.02 33.64 L7.91 33.97 L7.82 34.30 L7.74 34.63 L7.68 34.97 L7.63 35.31 L7.61 35.66 L7.60 36.00 L7.61 36.34 L7.63 36.69 L7.68 37.03 L7.74 37.37 L7.82 37.70 L7.91 38.03 L8.02 38.36 L8.15 38.68 L8.29 38.99 L8.45 39.30 L8.62 39.60 L8.81 39.89 L9.02 40.17 L9.23 40.44 L9.47 40.70 L9.71 40.95 L9.96 41.19 L10.23 41.41 L10.51 41.62 L10.80 41.82 L11.10 42.00 L11.41 42.17 L11.72 42.33 L12.04 42.47 L12.37 42.59 L12.71 42.70 L13.05 42.79 L13.40 42.87 L13.74 42.92 L14.09 42.97 L14.45 42.99 L14.80 43.00 L15.15 42.99 L15.51 42.97 L15.86 42.92 L16.20 42.87 L16.55 42.79 L16.89 42.70 L17.23 42.59 L17.56 42.47 L17.88 42.33 L18.19 42.17 L18.50 42.00 L18.80 41.82 L19.09 41.62 L19.37 41.41 L19.64 41.19 L19.64 41.18 L19.70 41.26 L19.91 41.51 L20.15 41.76 L20.41 41.99 L20.69 42.23 L20.99 42.45 L21.30 42.66 L21.63 42.87 L21.99 43.06 L22.35 43.24 L22.73 43.42 L23.13 43.58 L23.54 43.73 L23.96 43.87 L24.39 44.00 L24.83 44.11 L25.28 44.21 L25.74 44.30 L26.21 44.38 L26.68 44.44 L27.15 44.49 L27.63 44.52 L28.12 44.54 L28.60 44.55 L29.08 44.54 L29.57 44.52 L30.05 44.49 L30.52 44.44 L30.74 44.41 L30.80 44.43 L31.09 44.51 L31.39 44.58 L31.69 44.63 L31.99 44.67 L32.30 44.69 L32.60 44.70 L32.90 44.69 L33.21 44.67 L33.51 44.63 L33.81 44.58 L34.11 44.51 L34.40 44.43 L34.69 44.34 L34.97 44.23 L35.25 44.10 L35.52 43.97 L35.79 43.82 L36.04 43.66 L36.29 43.48 L36.53 43.29 L36.76 43.09 L36.98 42.88 L37.19 42.66 L37.39 42.43 L37.58 42.19 L37.76 41.94 L37.92 41.69 L38.07 41.42 L38.20 41.15 L38.33 40.87 L38.44 40.59 L38.53 40.30 L38.61 40.01 L38.68 39.71 L38.73 39.41 L38.77 39.11 L38.79 38.80 L38.80 38.50 L38.79 38.20 L38.77 37.89 L38.73 37.59 L38.68 37.29 L38.61 36.99 L38.53 36.70 L38.44 36.41 L38.33 36.13 L38.20 35.85 L38.07 35.58 L37.92 35.31 L37.76 35.06 L37.58 34.81 L37.39 34.57 L37.19 34.34 L36.98 34.12 L36.76 33.91 L36.53 33.71 L36.29 33.52 L36.04 33.34 L35.79 33.18 L35.52 33.03 L35.25 32.90 L34.97 32.77 L34.69 32.66 L34.40 32.57 L34.11 32.49 L33.81 32.42 L33.51 32.37 L33.21 32.33 L32.90 32.31 L32.60 32.30 L32.30 32.31 L31.99 32.33 L31.69 32.37 L31.39 32.42 L31.09 32.49 L30.90 32.54 L30.92 32.49 L31.01 32.18 L31.08 31.87 L31.13 31.55 L31.17 31.24 L31.19 30.92 L31.20 30.60 L31.19 30.28 L31.17 29.96Z" fill="#d9d9d9" stroke="#2f62b3" stroke-width="2.5" stroke-linejoin="round"/><path d="M26.98 35.88 A6.2 6.2 0 0 1 31.74 32.36" fill="none" stroke="#2f62b3" stroke-width="2.5" stroke-linecap="round"/></g><line x1="15.2" y1="47.6" x2="13.0" y2="58.9" stroke="#3f70c0" stroke-width="3.2" stroke-linecap="butt"/><line x1="21.2" y1="46.0" x2="18.4" y2="60.8" stroke="#3f70c0" stroke-width="3.2" stroke-linecap="butt"/><line x1="27.0" y1="49.2" x2="24.7" y2="59.9" stroke="#3f70c0" stroke-width="3.2" stroke-linecap="butt"/><line x1="33.3" y1="46.0" x2="31.1" y2="60.8" stroke="#3f70c0" stroke-width="3.2" stroke-linecap="butt"/></g><g transform="translate(432.35,133)"><path d="M39.66 18.66 L39.53 18.20 L39.39 17.75 L39.22 17.31 L39.02 16.87 L38.81 16.45 L38.58 16.04 L38.32 15.64 L38.05 15.25 L37.76 14.88 L37.45 14.52 L37.12 14.18 L36.78 13.85 L36.42 13.54 L36.05 13.25 L35.66 12.98 L35.26 12.72 L34.85 12.49 L34.43 12.28 L33.99 12.08 L33.55 11.91 L33.10 11.77 L32.64 11.64 L32.18 11.54 L31.72 11.45 L31.25 11.40 L30.77 11.36 L30.30 11.35 L29.83 11.36 L29.35 11.40 L28.88 11.45 L28.42 11.54 L27.96 11.64 L27.50 11.77 L27.05 11.91 L26.61 12.08 L26.17 12.28 L25.75 12.49 L25.34 12.72 L24.94 12.98 L24.55 13.25 L24.18 13.54 L23.82 13.85 L23.48 14.18 L23.15 14.52 L22.84 14.88 L22.55 15.25 L22.28 15.64 L22.02 16.04 L21.79 16.45 L21.58 16.87 L21.38 17.31 L21.21 17.75 L21.07 18.20 L20.94 18.66 L20.84 19.12 L20.75 19.58 L20.70 20.05 L20.66 20.53 L20.65 21.00 L20.66 21.47 L20.70 21.95 L20.75 22.42 L20.84 22.88 L20.94 23.34 L21.07 23.80 L21.21 24.25 L21.38 24.69 L21.58 25.13 L21.61 25.19 L21.58 25.15 L21.29 24.82 L20.99 24.51 L20.68 24.21 L20.35 23.92 L20.00 23.65 L19.64 23.40 L19.28 23.17 L18.90 22.95 L18.51 22.75 L18.11 22.58 L17.70 22.42 L17.28 22.28 L16.86 22.17 L16.44 22.07 L16.01 22.00 L15.57 21.94 L15.14 21.91 L14.70 21.90 L14.26 21.91 L13.83 21.94 L13.39 22.00 L12.96 22.07 L12.54 22.17 L12.12 22.28 L11.70 22.42 L11.29 22.58 L10.89 22.75 L10.50 22.95 L10.12 23.17 L9.76 23.40 L9.40 23.65 L9.05 23.92 L8.72 24.21 L8.41 24.51 L8.11 24.82 L7.82 25.15 L7.55 25.50 L7.30 25.86 L7.07 26.22 L6.85 26.60 L6.65 26.99 L6.48 27.39 L6.32 27.80 L6.18 28.22 L6.07 28.64 L5.97 29.06 L5.90 29.49 L5.84 29.93 L5.81 30.36 L5.80 30.80 L5.81 31.24 L5.84 31.67 L5.90 32.11 L5.97 32.54 L6.07 32.96 L6.18 33.38 L6.32 33.80 L6.48 34.21 L6.65 34.61 L6.85 35.00 L7.07 35.38 L7.30 35.74 L7.55 36.10 L7.82 36.45 L8.11 36.78 L8.41 37.09 L8.72 37.39 L9.05 37.68 L9.40 37.95 L9.76 38.20 L10.12 38.43 L10.50 38.65 L10.89 38.85 L11.29 39.02 L11.70 39.18 L12.12 39.32 L12.54 39.43 L12.96 39.53 L13.39 39.60 L13.83 39.66 L14.26 39.69 L14.70 39.70 L15.14 39.69 L15.57 39.66 L16.01 39.60 L16.44 39.53 L16.86 39.43 L17.28 39.32 L17.70 39.18 L18.11 39.02 L18.51 38.85 L18.90 38.65 L19.28 38.43 L19.64 38.20 L20.00 37.95 L20.35 37.68 L20.68 37.39 L20.74 37.33 L20.96 37.51 L21.37 37.80 L21.81 38.08 L22.26 38.34 L22.73 38.59 L23.22 38.82 L23.73 39.03 L24.25 39.23 L24.78 39.41 L25.33 39.58 L25.89 39.72 L26.46 39.85 L27.04 39.95 L27.62 40.04 L28.21 40.11 L28.80 40.16 L29.40 40.19 L30.00 40.20 L30.60 40.19 L31.20 40.16 L31.79 40.11 L32.38 40.04 L32.96 39.95 L33.54 39.85 L34.11 39.72 L34.67 39.58 L35.22 39.41 L35.75 39.23 L36.27 39.03 L36.78 38.82 L37.27 38.59 L37.74 38.34 L38.19 38.08 L38.63 37.80 L39.04 37.51 L39.43 37.20 L39.80 36.88 L40.14 36.56 L40.46 36.22 L40.76 35.87 L41.03 35.51 L41.27 35.14 L41.42 34.87 L41.43 34.88 L41.86 35.15 L42.29 35.40 L42.74 35.62 L43.20 35.82 L43.66 36.00 L44.14 36.16 L44.62 36.29 L45.11 36.40 L45.60 36.49 L46.10 36.55 L46.60 36.59 L47.10 36.60 L47.60 36.59 L48.10 36.55 L48.60 36.49 L49.09 36.40 L49.58 36.29 L50.06 36.16 L50.54 36.00 L51.00 35.82 L51.46 35.62 L51.91 35.40 L52.34 35.15 L52.77 34.88 L53.18 34.59 L53.57 34.28 L53.95 33.96 L54.31 33.61 L54.66 33.25 L54.98 32.87 L55.29 32.48 L55.58 32.07 L55.85 31.64 L56.10 31.21 L56.32 30.76 L56.52 30.30 L56.70 29.84 L56.86 29.36 L56.99 28.88 L57.10 28.39 L57.19 27.90 L57.25 27.40 L57.29 26.90 L57.30 26.40 L57.29 25.90 L57.25 25.40 L57.19 24.90 L57.10 24.41 L56.99 23.92 L56.86 23.44 L56.70 22.96 L56.52 22.50 L56.32 22.04 L56.10 21.59 L55.85 21.16 L55.58 20.73 L55.29 20.32 L54.98 19.93 L54.66 19.55 L54.31 19.19 L53.95 18.84 L53.57 18.52 L53.18 18.21 L52.77 17.92 L52.34 17.65 L51.91 17.40 L51.46 17.18 L51.00 16.98 L50.54 16.80 L50.06 16.64 L49.58 16.51 L49.09 16.40 L48.60 16.31 L48.10 16.25 L47.60 16.21 L47.10 16.20 L46.60 16.21 L46.10 16.25 L45.60 16.31 L45.11 16.40 L44.62 16.51 L44.14 16.64 L43.66 16.80 L43.20 16.98 L42.74 17.18 L42.29 17.40 L41.86 17.65 L41.43 17.92 L41.02 18.21 L40.63 18.52 L40.25 18.84 L39.89 19.19 L39.79 19.29 L39.76 19.12 L39.66 18.66Z" fill="#d9d9d9" stroke="#2f62b3" stroke-width="2.5" stroke-linejoin="round"/><path d="M44.57 27.11 L44.52 26.76 L44.46 26.41 L44.38 26.07 L44.29 25.72 L44.18 25.39 L44.05 25.06 L43.91 24.73 L43.75 24.41 L43.57 24.10 L43.38 23.80 L43.18 23.51 L42.96 23.24 L42.73 22.97 L42.48 22.71 L42.23 22.46 L41.96 22.23 L41.68 22.01 L41.39 21.81 L41.09 21.62 L40.78 21.45 L40.46 21.29 L40.14 21.14 L39.81 21.01 L39.47 20.90 L39.13 20.81 L38.78 20.73 L38.43 20.67 L38.08 20.63 L37.73 20.60 L37.37 20.59 L37.02 20.60 L36.66 20.63 L36.31 20.67 L35.96 20.73 L35.61 20.81 L35.27 20.90 L34.94 21.01 L34.60 21.14 L34.28 21.29 L33.96 21.45 L33.65 21.62 L33.35 21.81 L33.06 22.01 L32.78 22.23 L32.52 22.46 L32.26 22.71 L32.01 22.97 L31.78 23.24 L31.56 23.51 L31.36 23.80 L31.17 24.10 L30.99 24.41 L30.83 24.73 L30.69 25.06 L30.56 25.39 L30.45 25.72 L30.36 26.07 L30.28 26.41 L30.22 26.76 L30.18 27.11 L30.15 27.47 L30.14 27.82 L30.15 28.18 L30.18 28.53 L30.19 28.64 L30.02 28.51 L29.70 28.32 L29.38 28.13 L29.05 27.97 L28.71 27.82 L28.36 27.68 L28.01 27.57 L27.65 27.47 L27.29 27.39 L26.93 27.32 L26.56 27.28 L26.19 27.25 L25.82 27.24 L25.45 27.25 L25.08 27.28 L24.71 27.32 L24.34 27.39 L23.98 27.47 L23.62 27.57 L23.27 27.68 L22.92 27.82 L22.59 27.97 L22.25 28.13 L21.93 28.32 L21.62 28.51 L21.32 28.73 L21.02 28.96 L20.74 29.20 L20.47 29.45 L20.22 29.72 L19.97 30.00 L19.75 30.30 L19.53 30.60 L19.33 30.91 L19.15 31.24 L18.99 31.57 L18.83 31.91 L18.70 32.25 L18.58 32.60 L18.49 32.96 L18.40 33.32 L18.34 33.69 L18.30 34.06 L18.27 34.43 L18.26 34.80 L18.27 35.17 L18.30 35.54 L18.34 35.91 L18.40 36.27 L18.49 36.63 L18.58 36.99 L18.70 37.34 L18.83 37.69 L18.99 38.03 L19.15 38.36 L19.33 38.68 L19.53 39.00 L19.75 39.30 L19.97 39.59 L20.22 39.87 L20.47 40.14 L20.74 40.40 L21.02 40.64 L21.32 40.87 L21.62 41.08 L21.93 41.28 L22.25 41.46 L22.59 41.63 L22.92 41.78 L23.27 41.91 L23.62 42.03 L23.98 42.13 L24.34 42.21 L24.71 42.27 L25.08 42.32 L25.45 42.35 L25.82 42.36 L26.19 42.35 L26.56 42.32 L26.93 42.27 L27.29 42.21 L27.65 42.13 L28.01 42.03 L28.36 41.91 L28.71 41.78 L29.05 41.63 L29.38 41.46 L29.70 41.28 L30.02 41.08 L30.32 40.87 L30.61 40.64 L30.89 40.40 L31.16 40.14 L31.42 39.87 L31.66 39.59 L31.81 39.39 L31.85 39.43 L32.17 39.69 L32.51 39.94 L32.87 40.18 L33.26 40.41 L33.66 40.63 L34.09 40.85 L34.54 41.05 L35.00 41.23 L35.49 41.41 L35.98 41.58 L36.50 41.73 L37.03 41.86 L37.56 41.99 L38.12 42.10 L38.68 42.20 L39.24 42.28 L39.82 42.34 L40.40 42.40 L40.99 42.43 L41.58 42.46 L42.17 42.46 L42.76 42.46 L43.35 42.43 L43.93 42.40 L44.51 42.34 L45.09 42.28 L45.66 42.20 L45.73 42.18 L45.74 42.19 L46.05 42.27 L46.36 42.34 L46.67 42.39 L46.98 42.43 L47.30 42.46 L47.62 42.46 L47.93 42.46 L48.25 42.43 L48.57 42.39 L48.88 42.34 L49.19 42.27 L49.49 42.19 L49.80 42.09 L50.09 41.97 L50.38 41.84 L50.67 41.70 L50.94 41.54 L51.21 41.37 L51.47 41.19 L51.72 41.00 L51.96 40.79 L52.19 40.57 L52.41 40.34 L52.62 40.10 L52.81 39.85 L52.99 39.59 L53.16 39.32 L53.32 39.05 L53.46 38.76 L53.59 38.47 L53.71 38.18 L53.81 37.87 L53.87 37.66 L53.96 37.43 L54.06 37.13 L54.14 36.83 L54.18 36.52 L54.19 36.22 L54.18 35.91 L54.14 35.60 L54.06 35.30 L54.03 35.21 L54.01 35.05 L53.96 34.74 L53.89 34.43 L53.81 34.12 L53.71 33.82 L53.59 33.52 L53.46 33.23 L53.32 32.95 L53.16 32.67 L52.99 32.40 L52.81 32.14 L52.62 31.89 L52.41 31.65 L52.19 31.42 L51.96 31.20 L51.72 31.00 L51.47 30.80 L51.21 30.62 L50.94 30.45 L50.67 30.29 L50.38 30.15 L50.09 30.02 L49.80 29.91 L49.49 29.81 L49.19 29.72 L48.88 29.65 L48.57 29.60 L48.25 29.56 L47.93 29.54 L47.62 29.53 L47.30 29.54 L46.98 29.56 L46.67 29.60 L46.36 29.65 L46.05 29.72 L45.74 29.81 L45.44 29.91 L45.14 30.02 L44.90 30.13 L44.51 30.09 L44.24 30.06 L44.29 29.92 L44.38 29.58 L44.46 29.23 L44.52 28.88 L44.57 28.53 L44.59 28.18 L44.60 27.82 L44.59 27.47 L44.57 27.11Z" fill="#fbfbfb" stroke="#2f62b3" stroke-width="2.5" stroke-linejoin="round"/><path d="M40.99 33.19 A7.194 7.194 0 0 1 46.62 28.87" fill="none" stroke="#2f62b3" stroke-width="2.5" stroke-linecap="round"/></g><g transform="translate(511.22,133)"><g transform="translate(2,-0.8)"><line x1="43.81" y1="25.35" x2="52.88" y2="27.37" stroke="#8c8c6a" stroke-width="4.5" stroke-opacity="0.5" stroke-linecap="square"/><line x1="43.81" y1="25.35" x2="52.88" y2="27.37" stroke="#f2e61a" stroke-width="3.3" stroke-linecap="square"/><line x1="40.29" y1="30.35" x2="45.27" y2="38.21" stroke="#8c8c6a" stroke-width="4.5" stroke-opacity="0.5" stroke-linecap="square"/><line x1="40.29" y1="30.35" x2="45.27" y2="38.21" stroke="#f2e61a" stroke-width="3.3" stroke-linecap="square"/><line x1="34.25" y1="31.41" x2="32.23" y2="40.48" stroke="#8c8c6a" stroke-width="4.5" stroke-opacity="0.5" stroke-linecap="square"/><line x1="34.25" y1="31.41" x2="32.23" y2="40.48" stroke="#f2e61a" stroke-width="3.3" stroke-linecap="square"/><line x1="29.25" y1="27.89" x2="21.39" y2="32.87" stroke="#8c8c6a" stroke-width="4.5" stroke-opacity="0.5" stroke-linecap="square"/><line x1="29.25" y1="27.89" x2="21.39" y2="32.87" stroke="#f2e61a" stroke-width="3.3" stroke-linecap="square"/><line x1="28.19" y1="21.85" x2="19.12" y2="19.83" stroke="#8c8c6a" stroke-width="4.5" stroke-opacity="0.5" stroke-linecap="square"/><line x1="28.19" y1="21.85" x2="19.12" y2="19.83" stroke="#f2e61a" stroke-width="3.3" stroke-linecap="square"/><line x1="31.71" y1="16.85" x2="26.73" y2="8.99" stroke="#8c8c6a" stroke-width="4.5" stroke-opacity="0.5" stroke-linecap="square"/><line x1="31.71" y1="16.85" x2="26.73" y2="8.99" stroke="#f2e61a" stroke-width="3.3" stroke-linecap="square"/><line x1="37.75" y1="15.79" x2="39.77" y2="6.72" stroke="#8c8c6a" stroke-width="4.5" stroke-opacity="0.5" stroke-linecap="square"/><line x1="37.75" y1="15.79" x2="39.77" y2="6.72" stroke="#f2e61a" stroke-width="3.3" stroke-linecap="square"/><line x1="42.75" y1="19.31" x2="50.61" y2="14.33" stroke="#8c8c6a" stroke-width="4.5" stroke-opacity="0.5" stroke-linecap="square"/><line x1="42.75" y1="19.31" x2="50.61" y2="14.33" stroke="#f2e61a" stroke-width="3.3" stroke-linecap="square"/><circle cx="36.0" cy="23.6" r="9.8" fill="#f2e61a" stroke="#f6a21e" stroke-width="1.1"/><path d="M31.17 29.96 L31.13 29.65 L31.08 29.33 L31.01 29.02 L30.92 28.71 L30.82 28.41 L30.71 28.11 L30.58 27.82 L30.43 27.54 L30.28 27.26 L30.10 26.99 L29.92 26.73 L29.72 26.48 L29.52 26.23 L29.30 26.00 L29.07 25.78 L28.82 25.58 L28.57 25.38 L28.31 25.20 L28.04 25.02 L27.76 24.87 L27.48 24.72 L27.19 24.59 L26.89 24.48 L26.59 24.38 L26.28 24.29 L25.97 24.22 L25.65 24.17 L25.34 24.13 L25.02 24.11 L24.70 24.10 L24.38 24.11 L24.06 24.13 L23.75 24.17 L23.43 24.22 L23.12 24.29 L22.81 24.38 L22.51 24.48 L22.21 24.59 L21.92 24.72 L21.64 24.87 L21.36 25.02 L21.09 25.20 L20.83 25.38 L20.58 25.58 L20.33 25.78 L20.10 26.00 L19.88 26.23 L19.68 26.48 L19.48 26.73 L19.30 26.99 L19.12 27.26 L18.97 27.54 L18.82 27.82 L18.69 28.11 L18.58 28.41 L18.48 28.71 L18.39 29.02 L18.32 29.33 L18.27 29.65 L18.24 29.85 L18.19 29.83 L17.88 29.67 L17.56 29.53 L17.23 29.41 L16.89 29.30 L16.55 29.21 L16.20 29.13 L15.86 29.08 L15.51 29.03 L15.15 29.01 L14.80 29.00 L14.45 29.01 L14.09 29.03 L13.74 29.08 L13.40 29.13 L13.05 29.21 L12.71 29.30 L12.37 29.41 L12.04 29.53 L11.72 29.67 L11.41 29.83 L11.10 30.00 L10.80 30.18 L10.51 30.38 L10.23 30.59 L9.96 30.81 L9.71 31.05 L9.47 31.30 L9.23 31.56 L9.02 31.83 L8.81 32.11 L8.62 32.40 L8.45 32.70 L8.29 33.01 L8.15 33.32 L8.02 33.64 L7.91 33.97 L7.82 34.30 L7.74 34.63 L7.68 34.97 L7.63 35.31 L7.61 35.66 L7.60 36.00 L7.61 36.34 L7.63 36.69 L7.68 37.03 L7.74 37.37 L7.82 37.70 L7.91 38.03 L8.02 38.36 L8.15 38.68 L8.29 38.99 L8.45 39.30 L8.62 39.60 L8.81 39.89 L9.02 40.17 L9.23 40.44 L9.47 40.70 L9.71 40.95 L9.96 41.19 L10.23 41.41 L10.51 41.62 L10.80 41.82 L11.10 42.00 L11.41 42.17 L11.72 42.33 L12.04 42.47 L12.37 42.59 L12.71 42.70 L13.05 42.79 L13.40 42.87 L13.74 42.92 L14.09 42.97 L14.45 42.99 L14.80 43.00 L15.15 42.99 L15.51 42.97 L15.86 42.92 L16.20 42.87 L16.55 42.79 L16.89 42.70 L17.23 42.59 L17.56 42.47 L17.88 42.33 L18.19 42.17 L18.50 42.00 L18.80 41.82 L19.09 41.62 L19.37 41.41 L19.64 41.19 L19.64 41.18 L19.70 41.26 L19.91 41.51 L20.15 41.76 L20.41 41.99 L20.69 42.23 L20.99 42.45 L21.30 42.66 L21.63 42.87 L21.99 43.06 L22.35 43.24 L22.73 43.42 L23.13 43.58 L23.54 43.73 L23.96 43.87 L24.39 44.00 L24.83 44.11 L25.28 44.21 L25.74 44.30 L26.21 44.38 L26.68 44.44 L27.15 44.49 L27.63 44.52 L28.12 44.54 L28.60 44.55 L29.08 44.54 L29.57 44.52 L30.05 44.49 L30.52 44.44 L30.74 44.41 L30.80 44.43 L31.09 44.51 L31.39 44.58 L31.69 44.63 L31.99 44.67 L32.30 44.69 L32.60 44.70 L32.90 44.69 L33.21 44.67 L33.51 44.63 L33.81 44.58 L34.11 44.51 L34.40 44.43 L34.69 44.34 L34.97 44.23 L35.25 44.10 L35.52 43.97 L35.79 43.82 L36.04 43.66 L36.29 43.48 L36.53 43.29 L36.76 43.09 L36.98 42.88 L37.19 42.66 L37.39 42.43 L37.58 42.19 L37.76 41.94 L37.92 41.69 L38.07 41.42 L38.20 41.15 L38.33 40.87 L38.44 40.59 L38.53 40.30 L38.61 40.01 L38.68 39.71 L38.73 39.41 L38.77 39.11 L38.79 38.80 L38.80 38.50 L38.79 38.20 L38.77 37.89 L38.73 37.59 L38.68 37.29 L38.61 36.99 L38.53 36.70 L38.44 36.41 L38.33 36.13 L38.20 35.85 L38.07 35.58 L37.92 35.31 L37.76 35.06 L37.58 34.81 L37.39 34.57 L37.19 34.34 L36.98 34.12 L36.76 33.91 L36.53 33.71 L36.29 33.52 L36.04 33.34 L35.79 33.18 L35.52 33.03 L35.25 32.90 L34.97 32.77 L34.69 32.66 L34.40 32.57 L34.11 32.49 L33.81 32.42 L33.51 32.37 L33.21 32.33 L32.90 32.31 L32.60 32.30 L32.30 32.31 L31.99 32.33 L31.69 32.37 L31.39 32.42 L31.09 32.49 L30.90 32.54 L30.92 32.49 L31.01 32.18 L31.08 31.87 L31.13 31.55 L31.17 31.24 L31.19 30.92 L31.20 30.60 L31.19 30.28 L31.17 29.96Z" fill="#d9d9d9" stroke="#2f62b3" stroke-width="2.5" stroke-linejoin="round"/><path d="M26.98 35.88 A6.2 6.2 0 0 1 31.74 32.36" fill="none" stroke="#2f62b3" stroke-width="2.5" stroke-linecap="round"/></g><line x1="15.2" y1="47.6" x2="13.0" y2="58.9" stroke="#3f70c0" stroke-width="3.2" stroke-linecap="butt"/><line x1="21.2" y1="46.0" x2="18.4" y2="60.8" stroke="#3f70c0" stroke-width="3.2" stroke-linecap="butt"/><line x1="27.0" y1="49.2" x2="24.7" y2="59.9" stroke="#3f70c0" stroke-width="3.2" stroke-linecap="butt"/><line x1="33.3" y1="46.0" x2="31.1" y2="60.8" stroke="#3f70c0" stroke-width="3.2" stroke-linecap="butt"/></g><g transform="translate(590.09,133)"><path d="M39.66 18.66 L39.53 18.20 L39.39 17.75 L39.22 17.31 L39.02 16.87 L38.81 16.45 L38.58 16.04 L38.32 15.64 L38.05 15.25 L37.76 14.88 L37.45 14.52 L37.12 14.18 L36.78 13.85 L36.42 13.54 L36.05 13.25 L35.66 12.98 L35.26 12.72 L34.85 12.49 L34.43 12.28 L33.99 12.08 L33.55 11.91 L33.10 11.77 L32.64 11.64 L32.18 11.54 L31.72 11.45 L31.25 11.40 L30.77 11.36 L30.30 11.35 L29.83 11.36 L29.35 11.40 L28.88 11.45 L28.42 11.54 L27.96 11.64 L27.50 11.77 L27.05 11.91 L26.61 12.08 L26.17 12.28 L25.75 12.49 L25.34 12.72 L24.94 12.98 L24.55 13.25 L24.18 13.54 L23.82 13.85 L23.48 14.18 L23.15 14.52 L22.84 14.88 L22.55 15.25 L22.28 15.64 L22.02 16.04 L21.79 16.45 L21.58 16.87 L21.38 17.31 L21.21 17.75 L21.07 18.20 L20.94 18.66 L20.84 19.12 L20.75 19.58 L20.70 20.05 L20.66 20.53 L20.65 21.00 L20.66 21.47 L20.70 21.95 L20.75 22.42 L20.84 22.88 L20.94 23.34 L21.07 23.80 L21.21 24.25 L21.38 24.69 L21.58 25.13 L21.61 25.19 L21.58 25.15 L21.29 24.82 L20.99 24.51 L20.68 24.21 L20.35 23.92 L20.00 23.65 L19.64 23.40 L19.28 23.17 L18.90 22.95 L18.51 22.75 L18.11 22.58 L17.70 22.42 L17.28 22.28 L16.86 22.17 L16.44 22.07 L16.01 22.00 L15.57 21.94 L15.14 21.91 L14.70 21.90 L14.26 21.91 L13.83 21.94 L13.39 22.00 L12.96 22.07 L12.54 22.17 L12.12 22.28 L11.70 22.42 L11.29 22.58 L10.89 22.75 L10.50 22.95 L10.12 23.17 L9.76 23.40 L9.40 23.65 L9.05 23.92 L8.72 24.21 L8.41 24.51 L8.11 24.82 L7.82 25.15 L7.55 25.50 L7.30 25.86 L7.07 26.22 L6.85 26.60 L6.65 26.99 L6.48 27.39 L6.32 27.80 L6.18 28.22 L6.07 28.64 L5.97 29.06 L5.90 29.49 L5.84 29.93 L5.81 30.36 L5.80 30.80 L5.81 31.24 L5.84 31.67 L5.90 32.11 L5.97 32.54 L6.07 32.96 L6.18 33.38 L6.32 33.80 L6.48 34.21 L6.65 34.61 L6.85 35.00 L7.07 35.38 L7.30 35.74 L7.55 36.10 L7.82 36.45 L8.11 36.78 L8.41 37.09 L8.72 37.39 L9.05 37.68 L9.40 37.95 L9.76 38.20 L10.12 38.43 L10.50 38.65 L10.89 38.85 L11.29 39.02 L11.70 39.18 L12.12 39.32 L12.54 39.43 L12.96 39.53 L13.39 39.60 L13.83 39.66 L14.26 39.69 L14.70 39.70 L15.14 39.69 L15.57 39.66 L16.01 39.60 L16.44 39.53 L16.86 39.43 L17.28 39.32 L17.70 39.18 L18.11 39.02 L18.51 38.85 L18.90 38.65 L19.28 38.43 L19.64 38.20 L20.00 37.95 L20.35 37.68 L20.68 37.39 L20.74 37.33 L20.96 37.51 L21.37 37.80 L21.81 38.08 L22.26 38.34 L22.73 38.59 L23.22 38.82 L23.73 39.03 L24.25 39.23 L24.78 39.41 L25.33 39.58 L25.89 39.72 L26.46 39.85 L27.04 39.95 L27.62 40.04 L28.21 40.11 L28.80 40.16 L29.40 40.19 L30.00 40.20 L30.60 40.19 L31.20 40.16 L31.79 40.11 L32.38 40.04 L32.96 39.95 L33.54 39.85 L34.11 39.72 L34.67 39.58 L35.22 39.41 L35.75 39.23 L36.27 39.03 L36.78 38.82 L37.27 38.59 L37.74 38.34 L38.19 38.08 L38.63 37.80 L39.04 37.51 L39.43 37.20 L39.80 36.88 L40.14 36.56 L40.46 36.22 L40.76 35.87 L41.03 35.51 L41.27 35.14 L41.42 34.87 L41.43 34.88 L41.86 35.15 L42.29 35.40 L42.74 35.62 L43.20 35.82 L43.66 36.00 L44.14 36.16 L44.62 36.29 L45.11 36.40 L45.60 36.49 L46.10 36.55 L46.60 36.59 L47.10 36.60 L47.60 36.59 L48.10 36.55 L48.60 36.49 L49.09 36.40 L49.58 36.29 L50.06 36.16 L50.54 36.00 L51.00 35.82 L51.46 35.62 L51.91 35.40 L52.34 35.15 L52.77 34.88 L53.18 34.59 L53.57 34.28 L53.95 33.96 L54.31 33.61 L54.66 33.25 L54.98 32.87 L55.29 32.48 L55.58 32.07 L55.85 31.64 L56.10 31.21 L56.32 30.76 L56.52 30.30 L56.70 29.84 L56.86 29.36 L56.99 28.88 L57.10 28.39 L57.19 27.90 L57.25 27.40 L57.29 26.90 L57.30 26.40 L57.29 25.90 L57.25 25.40 L57.19 24.90 L57.10 24.41 L56.99 23.92 L56.86 23.44 L56.70 22.96 L56.52 22.50 L56.32 22.04 L56.10 21.59 L55.85 21.16 L55.58 20.73 L55.29 20.32 L54.98 19.93 L54.66 19.55 L54.31 19.19 L53.95 18.84 L53.57 18.52 L53.18 18.21 L52.77 17.92 L52.34 17.65 L51.91 17.40 L51.46 17.18 L51.00 16.98 L50.54 16.80 L50.06 16.64 L49.58 16.51 L49.09 16.40 L48.60 16.31 L48.10 16.25 L47.60 16.21 L47.10 16.20 L46.60 16.21 L46.10 16.25 L45.60 16.31 L45.11 16.40 L44.62 16.51 L44.14 16.64 L43.66 16.80 L43.20 16.98 L42.74 17.18 L42.29 17.40 L41.86 17.65 L41.43 17.92 L41.02 18.21 L40.63 18.52 L40.25 18.84 L39.89 19.19 L39.79 19.29 L39.76 19.12 L39.66 18.66Z" fill="#d9d9d9" stroke="#2f62b3" stroke-width="2.5" stroke-linejoin="round"/><path d="M44.57 27.11 L44.52 26.76 L44.46 26.41 L44.38 26.07 L44.29 25.72 L44.18 25.39 L44.05 25.06 L43.91 24.73 L43.75 24.41 L43.57 24.10 L43.38 23.80 L43.18 23.51 L42.96 23.24 L42.73 22.97 L42.48 22.71 L42.23 22.46 L41.96 22.23 L41.68 22.01 L41.39 21.81 L41.09 21.62 L40.78 21.45 L40.46 21.29 L40.14 21.14 L39.81 21.01 L39.47 20.90 L39.13 20.81 L38.78 20.73 L38.43 20.67 L38.08 20.63 L37.73 20.60 L37.37 20.59 L37.02 20.60 L36.66 20.63 L36.31 20.67 L35.96 20.73 L35.61 20.81 L35.27 20.90 L34.94 21.01 L34.60 21.14 L34.28 21.29 L33.96 21.45 L33.65 21.62 L33.35 21.81 L33.06 22.01 L32.78 22.23 L32.52 22.46 L32.26 22.71 L32.01 22.97 L31.78 23.24 L31.56 23.51 L31.36 23.80 L31.17 24.10 L30.99 24.41 L30.83 24.73 L30.69 25.06 L30.56 25.39 L30.45 25.72 L30.36 26.07 L30.28 26.41 L30.22 26.76 L30.18 27.11 L30.15 27.47 L30.14 27.82 L30.15 28.18 L30.18 28.53 L30.19 28.64 L30.02 28.51 L29.70 28.32 L29.38 28.13 L29.05 27.97 L28.71 27.82 L28.36 27.68 L28.01 27.57 L27.65 27.47 L27.29 27.39 L26.93 27.32 L26.56 27.28 L26.19 27.25 L25.82 27.24 L25.45 27.25 L25.08 27.28 L24.71 27.32 L24.34 27.39 L23.98 27.47 L23.62 27.57 L23.27 27.68 L22.92 27.82 L22.59 27.97 L22.25 28.13 L21.93 28.32 L21.62 28.51 L21.32 28.73 L21.02 28.96 L20.74 29.20 L20.47 29.45 L20.22 29.72 L19.97 30.00 L19.75 30.30 L19.53 30.60 L19.33 30.91 L19.15 31.24 L18.99 31.57 L18.83 31.91 L18.70 32.25 L18.58 32.60 L18.49 32.96 L18.40 33.32 L18.34 33.69 L18.30 34.06 L18.27 34.43 L18.26 34.80 L18.27 35.17 L18.30 35.54 L18.34 35.91 L18.40 36.27 L18.49 36.63 L18.58 36.99 L18.70 37.34 L18.83 37.69 L18.99 38.03 L19.15 38.36 L19.33 38.68 L19.53 39.00 L19.75 39.30 L19.97 39.59 L20.22 39.87 L20.47 40.14 L20.74 40.40 L21.02 40.64 L21.32 40.87 L21.62 41.08 L21.93 41.28 L22.25 41.46 L22.59 41.63 L22.92 41.78 L23.27 41.91 L23.62 42.03 L23.98 42.13 L24.34 42.21 L24.71 42.27 L25.08 42.32 L25.45 42.35 L25.82 42.36 L26.19 42.35 L26.56 42.32 L26.93 42.27 L27.29 42.21 L27.65 42.13 L28.01 42.03 L28.36 41.91 L28.71 41.78 L29.05 41.63 L29.38 41.46 L29.70 41.28 L30.02 41.08 L30.32 40.87 L30.61 40.64 L30.89 40.40 L31.16 40.14 L31.42 39.87 L31.66 39.59 L31.81 39.39 L31.85 39.43 L32.17 39.69 L32.51 39.94 L32.87 40.18 L33.26 40.41 L33.66 40.63 L34.09 40.85 L34.54 41.05 L35.00 41.23 L35.49 41.41 L35.98 41.58 L36.50 41.73 L37.03 41.86 L37.56 41.99 L38.12 42.10 L38.68 42.20 L39.24 42.28 L39.82 42.34 L40.40 42.40 L40.99 42.43 L41.58 42.46 L42.17 42.46 L42.76 42.46 L43.35 42.43 L43.93 42.40 L44.51 42.34 L45.09 42.28 L45.66 42.20 L45.73 42.18 L45.74 42.19 L46.05 42.27 L46.36 42.34 L46.67 42.39 L46.98 42.43 L47.30 42.46 L47.62 42.46 L47.93 42.46 L48.25 42.43 L48.57 42.39 L48.88 42.34 L49.19 42.27 L49.49 42.19 L49.80 42.09 L50.09 41.97 L50.38 41.84 L50.67 41.70 L50.94 41.54 L51.21 41.37 L51.47 41.19 L51.72 41.00 L51.96 40.79 L52.19 40.57 L52.41 40.34 L52.62 40.10 L52.81 39.85 L52.99 39.59 L53.16 39.32 L53.32 39.05 L53.46 38.76 L53.59 38.47 L53.71 38.18 L53.81 37.87 L53.87 37.66 L53.96 37.43 L54.06 37.13 L54.14 36.83 L54.18 36.52 L54.19 36.22 L54.18 35.91 L54.14 35.60 L54.06 35.30 L54.03 35.21 L54.01 35.05 L53.96 34.74 L53.89 34.43 L53.81 34.12 L53.71 33.82 L53.59 33.52 L53.46 33.23 L53.32 32.95 L53.16 32.67 L52.99 32.40 L52.81 32.14 L52.62 31.89 L52.41 31.65 L52.19 31.42 L51.96 31.20 L51.72 31.00 L51.47 30.80 L51.21 30.62 L50.94 30.45 L50.67 30.29 L50.38 30.15 L50.09 30.02 L49.80 29.91 L49.49 29.81 L49.19 29.72 L48.88 29.65 L48.57 29.60 L48.25 29.56 L47.93 29.54 L47.62 29.53 L47.30 29.54 L46.98 29.56 L46.67 29.60 L46.36 29.65 L46.05 29.72 L45.74 29.81 L45.44 29.91 L45.14 30.02 L44.90 30.13 L44.51 30.09 L44.24 30.06 L44.29 29.92 L44.38 29.58 L44.46 29.23 L44.52 28.88 L44.57 28.53 L44.59 28.18 L44.60 27.82 L44.59 27.47 L44.57 27.11Z" fill="#fbfbfb" stroke="#2f62b3" stroke-width="2.5" stroke-linejoin="round"/><path d="M40.99 33.19 A7.194 7.194 0 0 1 46.62 28.87" fill="none" stroke="#2f62b3" stroke-width="2.5" stroke-linecap="round"/><line x1="21.4" y1="45.5" x2="20.0" y2="56.2" stroke="#3f70c0" stroke-width="3.2" stroke-linecap="butt"/><line x1="28.3" y1="44.7" x2="26.9" y2="59.4" stroke="#3f70c0" stroke-width="3.2" stroke-linecap="butt"/><line x1="34.9" y1="45.5" x2="33.9" y2="56.2" stroke="#3f70c0" stroke-width="3.2" stroke-linecap="butt"/><line x1="41.9" y1="45.5" x2="40.5" y2="55.6" stroke="#3f70c0" stroke-width="3.2" stroke-linecap="butt"/></g><g transform="translate(668.96,133)"><path d="M39.66 18.66 L39.53 18.20 L39.39 17.75 L39.22 17.31 L39.02 16.87 L38.81 16.45 L38.58 16.04 L38.32 15.64 L38.05 15.25 L37.76 14.88 L37.45 14.52 L37.12 14.18 L36.78 13.85 L36.42 13.54 L36.05 13.25 L35.66 12.98 L35.26 12.72 L34.85 12.49 L34.43 12.28 L33.99 12.08 L33.55 11.91 L33.10 11.77 L32.64 11.64 L32.18 11.54 L31.72 11.45 L31.25 11.40 L30.77 11.36 L30.30 11.35 L29.83 11.36 L29.35 11.40 L28.88 11.45 L28.42 11.54 L27.96 11.64 L27.50 11.77 L27.05 11.91 L26.61 12.08 L26.17 12.28 L25.75 12.49 L25.34 12.72 L24.94 12.98 L24.55 13.25 L24.18 13.54 L23.82 13.85 L23.48 14.18 L23.15 14.52 L22.84 14.88 L22.55 15.25 L22.28 15.64 L22.02 16.04 L21.79 16.45 L21.58 16.87 L21.38 17.31 L21.21 17.75 L21.07 18.20 L20.94 18.66 L20.84 19.12 L20.75 19.58 L20.70 20.05 L20.66 20.53 L20.65 21.00 L20.66 21.47 L20.70 21.95 L20.75 22.42 L20.84 22.88 L20.94 23.34 L21.07 23.80 L21.21 24.25 L21.38 24.69 L21.58 25.13 L21.61 25.19 L21.58 25.15 L21.29 24.82 L20.99 24.51 L20.68 24.21 L20.35 23.92 L20.00 23.65 L19.64 23.40 L19.28 23.17 L18.90 22.95 L18.51 22.75 L18.11 22.58 L17.70 22.42 L17.28 22.28 L16.86 22.17 L16.44 22.07 L16.01 22.00 L15.57 21.94 L15.14 21.91 L14.70 21.90 L14.26 21.91 L13.83 21.94 L13.39 22.00 L12.96 22.07 L12.54 22.17 L12.12 22.28 L11.70 22.42 L11.29 22.58 L10.89 22.75 L10.50 22.95 L10.12 23.17 L9.76 23.40 L9.40 23.65 L9.05 23.92 L8.72 24.21 L8.41 24.51 L8.11 24.82 L7.82 25.15 L7.55 25.50 L7.30 25.86 L7.07 26.22 L6.85 26.60 L6.65 26.99 L6.48 27.39 L6.32 27.80 L6.18 28.22 L6.07 28.64 L5.97 29.06 L5.90 29.49 L5.84 29.93 L5.81 30.36 L5.80 30.80 L5.81 31.24 L5.84 31.67 L5.90 32.11 L5.97 32.54 L6.07 32.96 L6.18 33.38 L6.32 33.80 L6.48 34.21 L6.65 34.61 L6.85 35.00 L7.07 35.38 L7.30 35.74 L7.55 36.10 L7.82 36.45 L8.11 36.78 L8.41 37.09 L8.72 37.39 L9.05 37.68 L9.40 37.95 L9.76 38.20 L10.12 38.43 L10.50 38.65 L10.89 38.85 L11.29 39.02 L11.70 39.18 L12.12 39.32 L12.54 39.43 L12.96 39.53 L13.39 39.60 L13.83 39.66 L14.26 39.69 L14.70 39.70 L15.14 39.69 L15.57 39.66 L16.01 39.60 L16.44 39.53 L16.86 39.43 L17.28 39.32 L17.70 39.18 L18.11 39.02 L18.51 38.85 L18.90 38.65 L19.28 38.43 L19.64 38.20 L20.00 37.95 L20.35 37.68 L20.68 37.39 L20.74 37.33 L20.96 37.51 L21.37 37.80 L21.81 38.08 L22.26 38.34 L22.73 38.59 L23.22 38.82 L23.73 39.03 L24.25 39.23 L24.78 39.41 L25.33 39.58 L25.89 39.72 L26.46 39.85 L27.04 39.95 L27.62 40.04 L28.21 40.11 L28.80 40.16 L29.40 40.19 L30.00 40.20 L30.60 40.19 L31.20 40.16 L31.79 40.11 L32.38 40.04 L32.96 39.95 L33.54 39.85 L34.11 39.72 L34.67 39.58 L35.22 39.41 L35.75 39.23 L36.27 39.03 L36.78 38.82 L37.27 38.59 L37.74 38.34 L38.19 38.08 L38.63 37.80 L39.04 37.51 L39.43 37.20 L39.80 36.88 L40.14 36.56 L40.46 36.22 L40.76 35.87 L41.03 35.51 L41.27 35.14 L41.42 34.87 L41.43 34.88 L41.86 35.15 L42.29 35.40 L42.74 35.62 L43.20 35.82 L43.66 36.00 L44.14 36.16 L44.62 36.29 L45.11 36.40 L45.60 36.49 L46.10 36.55 L46.60 36.59 L47.10 36.60 L47.60 36.59 L48.10 36.55 L48.60 36.49 L49.09 36.40 L49.58 36.29 L50.06 36.16 L50.54 36.00 L51.00 35.82 L51.46 35.62 L51.91 35.40 L52.34 35.15 L52.77 34.88 L53.18 34.59 L53.57 34.28 L53.95 33.96 L54.31 33.61 L54.66 33.25 L54.98 32.87 L55.29 32.48 L55.58 32.07 L55.85 31.64 L56.10 31.21 L56.32 30.76 L56.52 30.30 L56.70 29.84 L56.86 29.36 L56.99 28.88 L57.10 28.39 L57.19 27.90 L57.25 27.40 L57.29 26.90 L57.30 26.40 L57.29 25.90 L57.25 25.40 L57.19 24.90 L57.10 24.41 L56.99 23.92 L56.86 23.44 L56.70 22.96 L56.52 22.50 L56.32 22.04 L56.10 21.59 L55.85 21.16 L55.58 20.73 L55.29 20.32 L54.98 19.93 L54.66 19.55 L54.31 19.19 L53.95 18.84 L53.57 18.52 L53.18 18.21 L52.77 17.92 L52.34 17.65 L51.91 17.40 L51.46 17.18 L51.00 16.98 L50.54 16.80 L50.06 16.64 L49.58 16.51 L49.09 16.40 L48.60 16.31 L48.10 16.25 L47.60 16.21 L47.10 16.20 L46.60 16.21 L46.10 16.25 L45.60 16.31 L45.11 16.40 L44.62 16.51 L44.14 16.64 L43.66 16.80 L43.20 16.98 L42.74 17.18 L42.29 17.40 L41.86 17.65 L41.43 17.92 L41.02 18.21 L40.63 18.52 L40.25 18.84 L39.89 19.19 L39.79 19.29 L39.76 19.12 L39.66 18.66Z" fill="#d9d9d9" stroke="#2f62b3" stroke-width="2.5" stroke-linejoin="round"/><path d="M44.57 27.11 L44.52 26.76 L44.46 26.41 L44.38 26.07 L44.29 25.72 L44.18 25.39 L44.05 25.06 L43.91 24.73 L43.75 24.41 L43.57 24.10 L43.38 23.80 L43.18 23.51 L42.96 23.24 L42.73 22.97 L42.48 22.71 L42.23 22.46 L41.96 22.23 L41.68 22.01 L41.39 21.81 L41.09 21.62 L40.78 21.45 L40.46 21.29 L40.14 21.14 L39.81 21.01 L39.47 20.90 L39.13 20.81 L38.78 20.73 L38.43 20.67 L38.08 20.63 L37.73 20.60 L37.37 20.59 L37.02 20.60 L36.66 20.63 L36.31 20.67 L35.96 20.73 L35.61 20.81 L35.27 20.90 L34.94 21.01 L34.60 21.14 L34.28 21.29 L33.96 21.45 L33.65 21.62 L33.35 21.81 L33.06 22.01 L32.78 22.23 L32.52 22.46 L32.26 22.71 L32.01 22.97 L31.78 23.24 L31.56 23.51 L31.36 23.80 L31.17 24.10 L30.99 24.41 L30.83 24.73 L30.69 25.06 L30.56 25.39 L30.45 25.72 L30.36 26.07 L30.28 26.41 L30.22 26.76 L30.18 27.11 L30.15 27.47 L30.14 27.82 L30.15 28.18 L30.18 28.53 L30.19 28.64 L30.02 28.51 L29.70 28.32 L29.38 28.13 L29.05 27.97 L28.71 27.82 L28.36 27.68 L28.01 27.57 L27.65 27.47 L27.29 27.39 L26.93 27.32 L26.56 27.28 L26.19 27.25 L25.82 27.24 L25.45 27.25 L25.08 27.28 L24.71 27.32 L24.34 27.39 L23.98 27.47 L23.62 27.57 L23.27 27.68 L22.92 27.82 L22.59 27.97 L22.25 28.13 L21.93 28.32 L21.62 28.51 L21.32 28.73 L21.02 28.96 L20.74 29.20 L20.47 29.45 L20.22 29.72 L19.97 30.00 L19.75 30.30 L19.53 30.60 L19.33 30.91 L19.15 31.24 L18.99 31.57 L18.83 31.91 L18.70 32.25 L18.58 32.60 L18.49 32.96 L18.40 33.32 L18.34 33.69 L18.30 34.06 L18.27 34.43 L18.26 34.80 L18.27 35.17 L18.30 35.54 L18.34 35.91 L18.40 36.27 L18.49 36.63 L18.58 36.99 L18.70 37.34 L18.83 37.69 L18.99 38.03 L19.15 38.36 L19.33 38.68 L19.53 39.00 L19.75 39.30 L19.97 39.59 L20.22 39.87 L20.47 40.14 L20.74 40.40 L21.02 40.64 L21.32 40.87 L21.62 41.08 L21.93 41.28 L22.25 41.46 L22.59 41.63 L22.92 41.78 L23.27 41.91 L23.62 42.03 L23.98 42.13 L24.34 42.21 L24.71 42.27 L25.08 42.32 L25.45 42.35 L25.82 42.36 L26.19 42.35 L26.56 42.32 L26.93 42.27 L27.29 42.21 L27.65 42.13 L28.01 42.03 L28.36 41.91 L28.71 41.78 L29.05 41.63 L29.38 41.46 L29.70 41.28 L30.02 41.08 L30.32 40.87 L30.61 40.64 L30.89 40.40 L31.16 40.14 L31.42 39.87 L31.66 39.59 L31.81 39.39 L31.85 39.43 L32.17 39.69 L32.51 39.94 L32.87 40.18 L33.26 40.41 L33.66 40.63 L34.09 40.85 L34.54 41.05 L35.00 41.23 L35.49 41.41 L35.98 41.58 L36.50 41.73 L37.03 41.86 L37.56 41.99 L38.12 42.10 L38.68 42.20 L39.24 42.28 L39.82 42.34 L40.40 42.40 L40.99 42.43 L41.58 42.46 L42.17 42.46 L42.76 42.46 L43.35 42.43 L43.93 42.40 L44.51 42.34 L45.09 42.28 L45.66 42.20 L45.73 42.18 L45.74 42.19 L46.05 42.27 L46.36 42.34 L46.67 42.39 L46.98 42.43 L47.30 42.46 L47.62 42.46 L47.93 42.46 L48.25 42.43 L48.57 42.39 L48.88 42.34 L49.19 42.27 L49.49 42.19 L49.80 42.09 L50.09 41.97 L50.38 41.84 L50.67 41.70 L50.94 41.54 L51.21 41.37 L51.47 41.19 L51.72 41.00 L51.96 40.79 L52.19 40.57 L52.41 40.34 L52.62 40.10 L52.81 39.85 L52.99 39.59 L53.16 39.32 L53.32 39.05 L53.46 38.76 L53.59 38.47 L53.71 38.18 L53.81 37.87 L53.87 37.66 L53.96 37.43 L54.06 37.13 L54.14 36.83 L54.18 36.52 L54.19 36.22 L54.18 35.91 L54.14 35.60 L54.06 35.30 L54.03 35.21 L54.01 35.05 L53.96 34.74 L53.89 34.43 L53.81 34.12 L53.71 33.82 L53.59 33.52 L53.46 33.23 L53.32 32.95 L53.16 32.67 L52.99 32.40 L52.81 32.14 L52.62 31.89 L52.41 31.65 L52.19 31.42 L51.96 31.20 L51.72 31.00 L51.47 30.80 L51.21 30.62 L50.94 30.45 L50.67 30.29 L50.38 30.15 L50.09 30.02 L49.80 29.91 L49.49 29.81 L49.19 29.72 L48.88 29.65 L48.57 29.60 L48.25 29.56 L47.93 29.54 L47.62 29.53 L47.30 29.54 L46.98 29.56 L46.67 29.60 L46.36 29.65 L46.05 29.72 L45.74 29.81 L45.44 29.91 L45.14 30.02 L44.90 30.13 L44.51 30.09 L44.24 30.06 L44.29 29.92 L44.38 29.58 L44.46 29.23 L44.52 28.88 L44.57 28.53 L44.59 28.18 L44.60 27.82 L44.59 27.47 L44.57 27.11Z" fill="#fbfbfb" stroke="#2f62b3" stroke-width="2.5" stroke-linejoin="round"/><path d="M40.99 33.19 A7.194 7.194 0 0 1 46.62 28.87" fill="none" stroke="#2f62b3" stroke-width="2.5" stroke-linecap="round"/><line x1="21.4" y1="45.5" x2="20.0" y2="56.2" stroke="#3f70c0" stroke-width="3.2" stroke-linecap="butt"/><line x1="28.3" y1="44.7" x2="26.9" y2="59.4" stroke="#3f70c0" stroke-width="3.2" stroke-linecap="butt"/><line x1="34.9" y1="45.5" x2="33.9" y2="56.2" stroke="#3f70c0" stroke-width="3.2" stroke-linecap="butt"/><line x1="41.9" y1="45.5" x2="40.5" y2="55.6" stroke="#3f70c0" stroke-width="3.2" stroke-linecap="butt"/></g><g transform="translate(747.83,133)"><path d="M39.66 18.66 L39.53 18.20 L39.39 17.75 L39.22 17.31 L39.02 16.87 L38.81 16.45 L38.58 16.04 L38.32 15.64 L38.05 15.25 L37.76 14.88 L37.45 14.52 L37.12 14.18 L36.78 13.85 L36.42 13.54 L36.05 13.25 L35.66 12.98 L35.26 12.72 L34.85 12.49 L34.43 12.28 L33.99 12.08 L33.55 11.91 L33.10 11.77 L32.64 11.64 L32.18 11.54 L31.72 11.45 L31.25 11.40 L30.77 11.36 L30.30 11.35 L29.83 11.36 L29.35 11.40 L28.88 11.45 L28.42 11.54 L27.96 11.64 L27.50 11.77 L27.05 11.91 L26.61 12.08 L26.17 12.28 L25.75 12.49 L25.34 12.72 L24.94 12.98 L24.55 13.25 L24.18 13.54 L23.82 13.85 L23.48 14.18 L23.15 14.52 L22.84 14.88 L22.55 15.25 L22.28 15.64 L22.02 16.04 L21.79 16.45 L21.58 16.87 L21.38 17.31 L21.21 17.75 L21.07 18.20 L20.94 18.66 L20.84 19.12 L20.75 19.58 L20.70 20.05 L20.66 20.53 L20.65 21.00 L20.66 21.47 L20.70 21.95 L20.75 22.42 L20.84 22.88 L20.94 23.34 L21.07 23.80 L21.21 24.25 L21.38 24.69 L21.58 25.13 L21.61 25.19 L21.58 25.15 L21.29 24.82 L20.99 24.51 L20.68 24.21 L20.35 23.92 L20.00 23.65 L19.64 23.40 L19.28 23.17 L18.90 22.95 L18.51 22.75 L18.11 22.58 L17.70 22.42 L17.28 22.28 L16.86 22.17 L16.44 22.07 L16.01 22.00 L15.57 21.94 L15.14 21.91 L14.70 21.90 L14.26 21.91 L13.83 21.94 L13.39 22.00 L12.96 22.07 L12.54 22.17 L12.12 22.28 L11.70 22.42 L11.29 22.58 L10.89 22.75 L10.50 22.95 L10.12 23.17 L9.76 23.40 L9.40 23.65 L9.05 23.92 L8.72 24.21 L8.41 24.51 L8.11 24.82 L7.82 25.15 L7.55 25.50 L7.30 25.86 L7.07 26.22 L6.85 26.60 L6.65 26.99 L6.48 27.39 L6.32 27.80 L6.18 28.22 L6.07 28.64 L5.97 29.06 L5.90 29.49 L5.84 29.93 L5.81 30.36 L5.80 30.80 L5.81 31.24 L5.84 31.67 L5.90 32.11 L5.97 32.54 L6.07 32.96 L6.18 33.38 L6.32 33.80 L6.48 34.21 L6.65 34.61 L6.85 35.00 L7.07 35.38 L7.30 35.74 L7.55 36.10 L7.82 36.45 L8.11 36.78 L8.41 37.09 L8.72 37.39 L9.05 37.68 L9.40 37.95 L9.76 38.20 L10.12 38.43 L10.50 38.65 L10.89 38.85 L11.29 39.02 L11.70 39.18 L12.12 39.32 L12.54 39.43 L12.96 39.53 L13.39 39.60 L13.83 39.66 L14.26 39.69 L14.70 39.70 L15.14 39.69 L15.57 39.66 L16.01 39.60 L16.44 39.53 L16.86 39.43 L17.28 39.32 L17.70 39.18 L18.11 39.02 L18.51 38.85 L18.90 38.65 L19.28 38.43 L19.64 38.20 L20.00 37.95 L20.35 37.68 L20.68 37.39 L20.74 37.33 L20.96 37.51 L21.37 37.80 L21.81 38.08 L22.26 38.34 L22.73 38.59 L23.22 38.82 L23.73 39.03 L24.25 39.23 L24.78 39.41 L25.33 39.58 L25.89 39.72 L26.46 39.85 L27.04 39.95 L27.62 40.04 L28.21 40.11 L28.80 40.16 L29.40 40.19 L30.00 40.20 L30.60 40.19 L31.20 40.16 L31.79 40.11 L32.38 40.04 L32.96 39.95 L33.54 39.85 L34.11 39.72 L34.67 39.58 L35.22 39.41 L35.75 39.23 L36.27 39.03 L36.78 38.82 L37.27 38.59 L37.74 38.34 L38.19 38.08 L38.63 37.80 L39.04 37.51 L39.43 37.20 L39.80 36.88 L40.14 36.56 L40.46 36.22 L40.76 35.87 L41.03 35.51 L41.27 35.14 L41.42 34.87 L41.43 34.88 L41.86 35.15 L42.29 35.40 L42.74 35.62 L43.20 35.82 L43.66 36.00 L44.14 36.16 L44.62 36.29 L45.11 36.40 L45.60 36.49 L46.10 36.55 L46.60 36.59 L47.10 36.60 L47.60 36.59 L48.10 36.55 L48.60 36.49 L49.09 36.40 L49.58 36.29 L50.06 36.16 L50.54 36.00 L51.00 35.82 L51.46 35.62 L51.91 35.40 L52.34 35.15 L52.77 34.88 L53.18 34.59 L53.57 34.28 L53.95 33.96 L54.31 33.61 L54.66 33.25 L54.98 32.87 L55.29 32.48 L55.58 32.07 L55.85 31.64 L56.10 31.21 L56.32 30.76 L56.52 30.30 L56.70 29.84 L56.86 29.36 L56.99 28.88 L57.10 28.39 L57.19 27.90 L57.25 27.40 L57.29 26.90 L57.30 26.40 L57.29 25.90 L57.25 25.40 L57.19 24.90 L57.10 24.41 L56.99 23.92 L56.86 23.44 L56.70 22.96 L56.52 22.50 L56.32 22.04 L56.10 21.59 L55.85 21.16 L55.58 20.73 L55.29 20.32 L54.98 19.93 L54.66 19.55 L54.31 19.19 L53.95 18.84 L53.57 18.52 L53.18 18.21 L52.77 17.92 L52.34 17.65 L51.91 17.40 L51.46 17.18 L51.00 16.98 L50.54 16.80 L50.06 16.64 L49.58 16.51 L49.09 16.40 L48.60 16.31 L48.10 16.25 L47.60 16.21 L47.10 16.20 L46.60 16.21 L46.10 16.25 L45.60 16.31 L45.11 16.40 L44.62 16.51 L44.14 16.64 L43.66 16.80 L43.20 16.98 L42.74 17.18 L42.29 17.40 L41.86 17.65 L41.43 17.92 L41.02 18.21 L40.63 18.52 L40.25 18.84 L39.89 19.19 L39.79 19.29 L39.76 19.12 L39.66 18.66Z" fill="#d9d9d9" stroke="#2f62b3" stroke-width="2.5" stroke-linejoin="round"/><path d="M44.57 27.11 L44.52 26.76 L44.46 26.41 L44.38 26.07 L44.29 25.72 L44.18 25.39 L44.05 25.06 L43.91 24.73 L43.75 24.41 L43.57 24.10 L43.38 23.80 L43.18 23.51 L42.96 23.24 L42.73 22.97 L42.48 22.71 L42.23 22.46 L41.96 22.23 L41.68 22.01 L41.39 21.81 L41.09 21.62 L40.78 21.45 L40.46 21.29 L40.14 21.14 L39.81 21.01 L39.47 20.90 L39.13 20.81 L38.78 20.73 L38.43 20.67 L38.08 20.63 L37.73 20.60 L37.37 20.59 L37.02 20.60 L36.66 20.63 L36.31 20.67 L35.96 20.73 L35.61 20.81 L35.27 20.90 L34.94 21.01 L34.60 21.14 L34.28 21.29 L33.96 21.45 L33.65 21.62 L33.35 21.81 L33.06 22.01 L32.78 22.23 L32.52 22.46 L32.26 22.71 L32.01 22.97 L31.78 23.24 L31.56 23.51 L31.36 23.80 L31.17 24.10 L30.99 24.41 L30.83 24.73 L30.69 25.06 L30.56 25.39 L30.45 25.72 L30.36 26.07 L30.28 26.41 L30.22 26.76 L30.18 27.11 L30.15 27.47 L30.14 27.82 L30.15 28.18 L30.18 28.53 L30.19 28.64 L30.02 28.51 L29.70 28.32 L29.38 28.13 L29.05 27.97 L28.71 27.82 L28.36 27.68 L28.01 27.57 L27.65 27.47 L27.29 27.39 L26.93 27.32 L26.56 27.28 L26.19 27.25 L25.82 27.24 L25.45 27.25 L25.08 27.28 L24.71 27.32 L24.34 27.39 L23.98 27.47 L23.62 27.57 L23.27 27.68 L22.92 27.82 L22.59 27.97 L22.25 28.13 L21.93 28.32 L21.62 28.51 L21.32 28.73 L21.02 28.96 L20.74 29.20 L20.47 29.45 L20.22 29.72 L19.97 30.00 L19.75 30.30 L19.53 30.60 L19.33 30.91 L19.15 31.24 L18.99 31.57 L18.83 31.91 L18.70 32.25 L18.58 32.60 L18.49 32.96 L18.40 33.32 L18.34 33.69 L18.30 34.06 L18.27 34.43 L18.26 34.80 L18.27 35.17 L18.30 35.54 L18.34 35.91 L18.40 36.27 L18.49 36.63 L18.58 36.99 L18.70 37.34 L18.83 37.69 L18.99 38.03 L19.15 38.36 L19.33 38.68 L19.53 39.00 L19.75 39.30 L19.97 39.59 L20.22 39.87 L20.47 40.14 L20.74 40.40 L21.02 40.64 L21.32 40.87 L21.62 41.08 L21.93 41.28 L22.25 41.46 L22.59 41.63 L22.92 41.78 L23.27 41.91 L23.62 42.03 L23.98 42.13 L24.34 42.21 L24.71 42.27 L25.08 42.32 L25.45 42.35 L25.82 42.36 L26.19 42.35 L26.56 42.32 L26.93 42.27 L27.29 42.21 L27.65 42.13 L28.01 42.03 L28.36 41.91 L28.71 41.78 L29.05 41.63 L29.38 41.46 L29.70 41.28 L30.02 41.08 L30.32 40.87 L30.61 40.64 L30.89 40.40 L31.16 40.14 L31.42 39.87 L31.66 39.59 L31.81 39.39 L31.85 39.43 L32.17 39.69 L32.51 39.94 L32.87 40.18 L33.26 40.41 L33.66 40.63 L34.09 40.85 L34.54 41.05 L35.00 41.23 L35.49 41.41 L35.98 41.58 L36.50 41.73 L37.03 41.86 L37.56 41.99 L38.12 42.10 L38.68 42.20 L39.24 42.28 L39.82 42.34 L40.40 42.40 L40.99 42.43 L41.58 42.46 L42.17 42.46 L42.76 42.46 L43.35 42.43 L43.93 42.40 L44.51 42.34 L45.09 42.28 L45.66 42.20 L45.73 42.18 L45.74 42.19 L46.05 42.27 L46.36 42.34 L46.67 42.39 L46.98 42.43 L47.30 42.46 L47.62 42.46 L47.93 42.46 L48.25 42.43 L48.57 42.39 L48.88 42.34 L49.19 42.27 L49.49 42.19 L49.80 42.09 L50.09 41.97 L50.38 41.84 L50.67 41.70 L50.94 41.54 L51.21 41.37 L51.47 41.19 L51.72 41.00 L51.96 40.79 L52.19 40.57 L52.41 40.34 L52.62 40.10 L52.81 39.85 L52.99 39.59 L53.16 39.32 L53.32 39.05 L53.46 38.76 L53.59 38.47 L53.71 38.18 L53.81 37.87 L53.87 37.66 L53.96 37.43 L54.06 37.13 L54.14 36.83 L54.18 36.52 L54.19 36.22 L54.18 35.91 L54.14 35.60 L54.06 35.30 L54.03 35.21 L54.01 35.05 L53.96 34.74 L53.89 34.43 L53.81 34.12 L53.71 33.82 L53.59 33.52 L53.46 33.23 L53.32 32.95 L53.16 32.67 L52.99 32.40 L52.81 32.14 L52.62 31.89 L52.41 31.65 L52.19 31.42 L51.96 31.20 L51.72 31.00 L51.47 30.80 L51.21 30.62 L50.94 30.45 L50.67 30.29 L50.38 30.15 L50.09 30.02 L49.80 29.91 L49.49 29.81 L49.19 29.72 L48.88 29.65 L48.57 29.60 L48.25 29.56 L47.93 29.54 L47.62 29.53 L47.30 29.54 L46.98 29.56 L46.67 29.60 L46.36 29.65 L46.05 29.72 L45.74 29.81 L45.44 29.91 L45.14 30.02 L44.90 30.13 L44.51 30.09 L44.24 30.06 L44.29 29.92 L44.38 29.58 L44.46 29.23 L44.52 28.88 L44.57 28.53 L44.59 28.18 L44.60 27.82 L44.59 27.47 L44.57 27.11Z" fill="#fbfbfb" stroke="#2f62b3" stroke-width="2.5" stroke-linejoin="round"/><path d="M40.99 33.19 A7.194 7.194 0 0 1 46.62 28.87" fill="none" stroke="#2f62b3" stroke-width="2.5" stroke-linecap="round"/><line x1="24.80" y1="41.90" x2="24.80" y2="48.30" stroke="#555" stroke-width="1.3"/><line x1="27.57" y1="43.50" x2="22.03" y2="46.70" stroke="#555" stroke-width="1.3"/><line x1="27.57" y1="46.70" x2="22.03" y2="43.50" stroke="#555" stroke-width="1.3"/><line x1="41.30" y1="44.20" x2="41.30" y2="50.60" stroke="#555" stroke-width="1.3"/><line x1="44.07" y1="45.80" x2="38.53" y2="49.00" stroke="#555" stroke-width="1.3"/><line x1="44.07" y1="49.00" x2="38.53" y2="45.80" stroke="#555" stroke-width="1.3"/><line x1="29.7" y1="47.6" x2="27.5" y2="58.0" stroke="#3f70c0" stroke-width="3.2" stroke-linecap="butt"/><line x1="35.8" y1="45.7" x2="33.5" y2="55.8" stroke="#3f70c0" stroke-width="3.2" stroke-linecap="butt"/></g><g transform="translate(826.70,133)"><line x1="35.81" y1="25.25" x2="44.88" y2="27.27" stroke="#8c8c6a" stroke-width="4.5" stroke-opacity="0.5" stroke-linecap="square"/><line x1="35.81" y1="25.25" x2="44.88" y2="27.27" stroke="#f2e61a" stroke-width="3.3" stroke-linecap="square"/><line x1="32.29" y1="30.25" x2="37.27" y2="38.11" stroke="#8c8c6a" stroke-width="4.5" stroke-opacity="0.5" stroke-linecap="square"/><line x1="32.29" y1="30.25" x2="37.27" y2="38.11" stroke="#f2e61a" stroke-width="3.3" stroke-linecap="square"/><line x1="26.25" y1="31.31" x2="24.23" y2="40.38" stroke="#8c8c6a" stroke-width="4.5" stroke-opacity="0.5" stroke-linecap="square"/><line x1="26.25" y1="31.31" x2="24.23" y2="40.38" stroke="#f2e61a" stroke-width="3.3" stroke-linecap="square"/><line x1="21.25" y1="27.79" x2="13.39" y2="32.77" stroke="#8c8c6a" stroke-width="4.5" stroke-opacity="0.5" stroke-linecap="square"/><line x1="21.25" y1="27.79" x2="13.39" y2="32.77" stroke="#f2e61a" stroke-width="3.3" stroke-linecap="square"/><line x1="20.19" y1="21.75" x2="11.12" y2="19.73" stroke="#8c8c6a" stroke-width="4.5" stroke-opacity="0.5" stroke-linecap="square"/><line x1="20.19" y1="21.75" x2="11.12" y2="19.73" stroke="#f2e61a" stroke-width="3.3" stroke-linecap="square"/><line x1="23.71" y1="16.75" x2="18.73" y2="8.89" stroke="#8c8c6a" stroke-width="4.5" stroke-opacity="0.5" stroke-linecap="square"/><line x1="23.71" y1="16.75" x2="18.73" y2="8.89" stroke="#f2e61a" stroke-width="3.3" stroke-linecap="square"/><line x1="29.75" y1="15.69" x2="31.77" y2="6.62" stroke="#8c8c6a" stroke-width="4.5" stroke-opacity="0.5" stroke-linecap="square"/><line x1="29.75" y1="15.69" x2="31.77" y2="6.62" stroke="#f2e61a" stroke-width="3.3" stroke-linecap="square"/><line x1="34.75" y1="19.21" x2="42.61" y2="14.23" stroke="#8c8c6a" stroke-width="4.5" stroke-opacity="0.5" stroke-linecap="square"/><line x1="34.75" y1="19.21" x2="42.61" y2="14.23" stroke="#f2e61a" stroke-width="3.3" stroke-linecap="square"/><circle cx="28.0" cy="23.5" r="9.8" fill="#f2e61a" stroke="#f6a21e" stroke-width="1.1"/><path d="M46.47 29.48 L46.44 29.22 L46.40 28.97 L46.34 28.71 L46.27 28.46 L46.19 28.21 L46.10 27.97 L45.99 27.73 L45.87 27.50 L45.75 27.28 L45.61 27.06 L45.46 26.84 L45.30 26.64 L45.13 26.44 L44.95 26.25 L44.76 26.07 L44.56 25.90 L44.36 25.74 L44.14 25.59 L43.92 25.45 L43.70 25.33 L43.47 25.21 L43.23 25.10 L42.99 25.01 L42.74 24.93 L42.49 24.86 L42.23 24.80 L41.98 24.76 L41.72 24.73 L41.46 24.71 L41.20 24.70 L40.94 24.71 L40.68 24.73 L40.42 24.76 L40.17 24.80 L39.91 24.86 L39.66 24.93 L39.41 25.01 L39.17 25.10 L38.93 25.21 L38.70 25.33 L38.48 25.45 L38.26 25.59 L38.04 25.74 L37.84 25.90 L37.64 26.07 L37.45 26.25 L37.27 26.44 L37.10 26.64 L36.94 26.84 L36.79 27.06 L36.65 27.28 L36.53 27.50 L36.41 27.73 L36.30 27.97 L36.21 28.21 L36.13 28.46 L36.06 28.71 L36.00 28.97 L35.96 29.22 L35.93 29.48 L35.91 29.74 L35.90 30.00 L35.91 30.26 L35.93 30.52 L35.96 30.78 L35.97 30.84 L35.90 30.80 L35.68 30.69 L35.45 30.59 L35.22 30.50 L34.98 30.42 L34.74 30.35 L34.49 30.30 L34.25 30.26 L34.00 30.22 L33.75 30.21 L33.50 30.20 L33.25 30.21 L33.00 30.22 L32.75 30.26 L32.51 30.30 L32.26 30.35 L32.02 30.42 L31.78 30.50 L31.55 30.59 L31.32 30.69 L31.10 30.80 L30.88 30.93 L30.67 31.06 L30.46 31.20 L30.26 31.36 L30.08 31.52 L29.89 31.69 L29.72 31.88 L29.56 32.06 L29.40 32.26 L29.26 32.47 L29.13 32.68 L29.00 32.90 L28.89 33.12 L28.79 33.35 L28.70 33.58 L28.62 33.82 L28.55 34.06 L28.50 34.31 L28.46 34.55 L28.42 34.80 L28.41 35.05 L28.40 35.30 L28.41 35.55 L28.42 35.80 L28.46 36.05 L28.50 36.29 L28.55 36.54 L28.62 36.78 L28.70 37.02 L28.79 37.25 L28.89 37.48 L29.00 37.70 L29.13 37.92 L29.26 38.13 L29.40 38.34 L29.56 38.54 L29.72 38.72 L29.89 38.91 L30.08 39.08 L30.26 39.24 L30.46 39.40 L30.67 39.54 L30.88 39.67 L31.10 39.80 L31.32 39.91 L31.55 40.01 L31.78 40.10 L32.02 40.18 L32.26 40.25 L32.51 40.30 L32.75 40.34 L33.00 40.38 L33.25 40.39 L33.50 40.40 L33.75 40.39 L34.00 40.38 L34.25 40.34 L34.49 40.30 L34.74 40.25 L34.98 40.18 L35.22 40.10 L35.45 40.01 L35.68 39.91 L35.90 39.80 L36.12 39.67 L36.33 39.54 L36.54 39.40 L36.74 39.24 L36.74 39.24 L36.85 39.31 L37.15 39.49 L37.46 39.66 L37.79 39.82 L38.13 39.97 L38.49 40.12 L38.86 40.25 L39.24 40.37 L39.64 40.49 L40.05 40.59 L40.46 40.69 L40.88 40.77 L41.31 40.85 L41.75 40.91 L42.20 40.96 L42.64 41.00 L43.09 41.03 L43.55 41.04 L44.00 41.05 L44.45 41.04 L44.91 41.03 L45.36 41.00 L45.80 40.96 L46.25 40.91 L46.69 40.85 L46.87 40.81 L46.88 40.82 L47.11 40.89 L47.33 40.96 L47.56 41.01 L47.80 41.05 L48.03 41.08 L48.26 41.09 L48.50 41.10 L48.74 41.09 L48.97 41.08 L49.20 41.05 L49.44 41.01 L49.67 40.96 L49.89 40.89 L50.12 40.82 L50.34 40.73 L50.55 40.64 L50.76 40.53 L50.97 40.42 L51.17 40.29 L51.36 40.16 L51.55 40.01 L51.72 39.86 L51.89 39.69 L52.06 39.52 L52.21 39.35 L52.36 39.16 L52.49 38.97 L52.62 38.77 L52.73 38.56 L52.84 38.35 L52.93 38.14 L53.02 37.92 L53.09 37.69 L53.16 37.47 L53.21 37.24 L53.25 37.00 L53.28 36.77 L53.29 36.54 L53.30 36.30 L53.29 36.06 L53.28 35.83 L53.25 35.60 L53.21 35.36 L53.16 35.13 L53.09 34.91 L53.02 34.68 L52.93 34.46 L52.84 34.25 L52.73 34.04 L52.62 33.83 L52.49 33.63 L52.36 33.44 L52.21 33.25 L52.06 33.08 L51.89 32.91 L51.72 32.74 L51.55 32.59 L51.36 32.44 L51.17 32.31 L50.97 32.18 L50.76 32.07 L50.55 31.96 L50.34 31.87 L50.12 31.78 L49.89 31.71 L49.67 31.64 L49.44 31.59 L49.20 31.55 L48.97 31.52 L48.74 31.51 L48.50 31.50 L48.26 31.51 L48.03 31.52 L47.80 31.55 L47.56 31.59 L47.33 31.64 L47.11 31.71 L46.88 31.78 L46.87 31.79 L46.69 31.75 L46.25 31.69 L46.22 31.69 L46.27 31.54 L46.34 31.29 L46.40 31.03 L46.44 30.78 L46.47 30.52 L46.49 30.26 L46.50 30.00 L46.49 29.74 L46.47 29.48Z" fill="#fbfbfb" stroke="#2f62b3" stroke-width="2.5" stroke-linejoin="round"/><path d="M43.70 34.06 A5.3 5.3 0 0 1 48.04 31.02" fill="none" stroke="#2f62b3" stroke-width="2.5" stroke-linecap="round"/></g><g transform="translate(905.57,133)"><line x1="43.21" y1="25.25" x2="52.28" y2="27.27" stroke="#8c8c6a" stroke-width="4.5" stroke-opacity="0.5" stroke-linecap="square"/><line x1="43.21" y1="25.25" x2="52.28" y2="27.27" stroke="#f2e61a" stroke-width="3.3" stroke-linecap="square"/><line x1="39.69" y1="30.25" x2="44.67" y2="38.11" stroke="#8c8c6a" stroke-width="4.5" stroke-opacity="0.5" stroke-linecap="square"/><line x1="39.69" y1="30.25" x2="44.67" y2="38.11" stroke="#f2e61a" stroke-width="3.3" stroke-linecap="square"/><line x1="33.65" y1="31.31" x2="31.63" y2="40.38" stroke="#8c8c6a" stroke-width="4.5" stroke-opacity="0.5" stroke-linecap="square"/><line x1="33.65" y1="31.31" x2="31.63" y2="40.38" stroke="#f2e61a" stroke-width="3.3" stroke-linecap="square"/><line x1="28.65" y1="27.79" x2="20.79" y2="32.77" stroke="#8c8c6a" stroke-width="4.5" stroke-opacity="0.5" stroke-linecap="square"/><line x1="28.65" y1="27.79" x2="20.79" y2="32.77" stroke="#f2e61a" stroke-width="3.3" stroke-linecap="square"/><line x1="27.59" y1="21.75" x2="18.52" y2="19.73" stroke="#8c8c6a" stroke-width="4.5" stroke-opacity="0.5" stroke-linecap="square"/><line x1="27.59" y1="21.75" x2="18.52" y2="19.73" stroke="#f2e61a" stroke-width="3.3" stroke-linecap="square"/><line x1="31.11" y1="16.75" x2="26.13" y2="8.89" stroke="#8c8c6a" stroke-width="4.5" stroke-opacity="0.5" stroke-linecap="square"/><line x1="31.11" y1="16.75" x2="26.13" y2="8.89" stroke="#f2e61a" stroke-width="3.3" stroke-linecap="square"/><line x1="37.15" y1="15.69" x2="39.17" y2="6.62" stroke="#8c8c6a" stroke-width="4.5" stroke-opacity="0.5" stroke-linecap="square"/><line x1="37.15" y1="15.69" x2="39.17" y2="6.62" stroke="#f2e61a" stroke-width="3.3" stroke-linecap="square"/><line x1="42.15" y1="19.21" x2="50.01" y2="14.23" stroke="#8c8c6a" stroke-width="4.5" stroke-opacity="0.5" stroke-linecap="square"/><line x1="42.15" y1="19.21" x2="50.01" y2="14.23" stroke="#f2e61a" stroke-width="3.3" stroke-linecap="square"/><circle cx="35.4" cy="23.5" r="9.7" fill="#f2e61a" stroke="#f6a21e" stroke-width="1.1"/><path d="M31.17 29.96 L31.13 29.65 L31.08 29.33 L31.01 29.02 L30.92 28.71 L30.82 28.41 L30.71 28.11 L30.58 27.82 L30.43 27.54 L30.28 27.26 L30.10 26.99 L29.92 26.73 L29.72 26.48 L29.52 26.23 L29.30 26.00 L29.07 25.78 L28.82 25.58 L28.57 25.38 L28.31 25.20 L28.04 25.02 L27.76 24.87 L27.48 24.72 L27.19 24.59 L26.89 24.48 L26.59 24.38 L26.28 24.29 L25.97 24.22 L25.65 24.17 L25.34 24.13 L25.02 24.11 L24.70 24.10 L24.38 24.11 L24.06 24.13 L23.75 24.17 L23.43 24.22 L23.12 24.29 L22.81 24.38 L22.51 24.48 L22.21 24.59 L21.92 24.72 L21.64 24.87 L21.36 25.02 L21.09 25.20 L20.83 25.38 L20.58 25.58 L20.33 25.78 L20.10 26.00 L19.88 26.23 L19.68 26.48 L19.48 26.73 L19.30 26.99 L19.12 27.26 L18.97 27.54 L18.82 27.82 L18.69 28.11 L18.58 28.41 L18.48 28.71 L18.39 29.02 L18.32 29.33 L18.27 29.65 L18.24 29.85 L18.19 29.83 L17.88 29.67 L17.56 29.53 L17.23 29.41 L16.89 29.30 L16.55 29.21 L16.20 29.13 L15.86 29.08 L15.51 29.03 L15.15 29.01 L14.80 29.00 L14.45 29.01 L14.09 29.03 L13.74 29.08 L13.40 29.13 L13.05 29.21 L12.71 29.30 L12.37 29.41 L12.04 29.53 L11.72 29.67 L11.41 29.83 L11.10 30.00 L10.80 30.18 L10.51 30.38 L10.23 30.59 L9.96 30.81 L9.71 31.05 L9.47 31.30 L9.23 31.56 L9.02 31.83 L8.81 32.11 L8.62 32.40 L8.45 32.70 L8.29 33.01 L8.15 33.32 L8.02 33.64 L7.91 33.97 L7.82 34.30 L7.74 34.63 L7.68 34.97 L7.63 35.31 L7.61 35.66 L7.60 36.00 L7.61 36.34 L7.63 36.69 L7.68 37.03 L7.74 37.37 L7.82 37.70 L7.91 38.03 L8.02 38.36 L8.15 38.68 L8.29 38.99 L8.45 39.30 L8.62 39.60 L8.81 39.89 L9.02 40.17 L9.23 40.44 L9.47 40.70 L9.71 40.95 L9.96 41.19 L10.23 41.41 L10.51 41.62 L10.80 41.82 L11.10 42.00 L11.41 42.17 L11.72 42.33 L12.04 42.47 L12.37 42.59 L12.71 42.70 L13.05 42.79 L13.40 42.87 L13.74 42.92 L14.09 42.97 L14.45 42.99 L14.80 43.00 L15.15 42.99 L15.51 42.97 L15.86 42.92 L16.20 42.87 L16.55 42.79 L16.89 42.70 L17.23 42.59 L17.56 42.47 L17.88 42.33 L18.19 42.17 L18.50 42.00 L18.80 41.82 L19.09 41.62 L19.37 41.41 L19.64 41.19 L19.64 41.18 L19.70 41.26 L19.91 41.51 L20.15 41.76 L20.41 41.99 L20.69 42.23 L20.99 42.45 L21.30 42.66 L21.63 42.87 L21.99 43.06 L22.35 43.24 L22.73 43.42 L23.13 43.58 L23.54 43.73 L23.96 43.87 L24.39 44.00 L24.83 44.11 L25.28 44.21 L25.74 44.30 L26.21 44.38 L26.68 44.44 L27.15 44.49 L27.63 44.52 L28.12 44.54 L28.60 44.55 L29.08 44.54 L29.57 44.52 L30.05 44.49 L30.52 44.44 L30.74 44.41 L30.80 44.43 L31.09 44.51 L31.39 44.58 L31.69 44.63 L31.99 44.67 L32.30 44.69 L32.60 44.70 L32.90 44.69 L33.21 44.67 L33.51 44.63 L33.81 44.58 L34.11 44.51 L34.40 44.43 L34.69 44.34 L34.97 44.23 L35.25 44.10 L35.52 43.97 L35.79 43.82 L36.04 43.66 L36.29 43.48 L36.53 43.29 L36.76 43.09 L36.98 42.88 L37.19 42.66 L37.39 42.43 L37.58 42.19 L37.76 41.94 L37.92 41.69 L38.07 41.42 L38.20 41.15 L38.33 40.87 L38.44 40.59 L38.53 40.30 L38.61 40.01 L38.68 39.71 L38.73 39.41 L38.77 39.11 L38.79 38.80 L38.80 38.50 L38.79 38.20 L38.77 37.89 L38.73 37.59 L38.68 37.29 L38.61 36.99 L38.53 36.70 L38.44 36.41 L38.33 36.13 L38.20 35.85 L38.07 35.58 L37.92 35.31 L37.76 35.06 L37.58 34.81 L37.39 34.57 L37.19 34.34 L36.98 34.12 L36.76 33.91 L36.53 33.71 L36.29 33.52 L36.04 33.34 L35.79 33.18 L35.52 33.03 L35.25 32.90 L34.97 32.77 L34.69 32.66 L34.40 32.57 L34.11 32.49 L33.81 32.42 L33.51 32.37 L33.21 32.33 L32.90 32.31 L32.60 32.30 L32.30 32.31 L31.99 32.33 L31.69 32.37 L31.39 32.42 L31.09 32.49 L30.90 32.54 L30.92 32.49 L31.01 32.18 L31.08 31.87 L31.13 31.55 L31.17 31.24 L31.19 30.92 L31.20 30.60 L31.19 30.28 L31.17 29.96Z" fill="#d9d9d9" stroke="#2f62b3" stroke-width="2.5" stroke-linejoin="round"/><path d="M26.98 35.88 A6.2 6.2 0 0 1 31.74 32.36" fill="none" stroke="#2f62b3" stroke-width="2.5" stroke-linecap="round"/></g><g transform="translate(984.44,133)"><path d="M39.66 18.66 L39.53 18.20 L39.39 17.75 L39.22 17.31 L39.02 16.87 L38.81 16.45 L38.58 16.04 L38.32 15.64 L38.05 15.25 L37.76 14.88 L37.45 14.52 L37.12 14.18 L36.78 13.85 L36.42 13.54 L36.05 13.25 L35.66 12.98 L35.26 12.72 L34.85 12.49 L34.43 12.28 L33.99 12.08 L33.55 11.91 L33.10 11.77 L32.64 11.64 L32.18 11.54 L31.72 11.45 L31.25 11.40 L30.77 11.36 L30.30 11.35 L29.83 11.36 L29.35 11.40 L28.88 11.45 L28.42 11.54 L27.96 11.64 L27.50 11.77 L27.05 11.91 L26.61 12.08 L26.17 12.28 L25.75 12.49 L25.34 12.72 L24.94 12.98 L24.55 13.25 L24.18 13.54 L23.82 13.85 L23.48 14.18 L23.15 14.52 L22.84 14.88 L22.55 15.25 L22.28 15.64 L22.02 16.04 L21.79 16.45 L21.58 16.87 L21.38 17.31 L21.21 17.75 L21.07 18.20 L20.94 18.66 L20.84 19.12 L20.75 19.58 L20.70 20.05 L20.66 20.53 L20.65 21.00 L20.66 21.47 L20.70 21.95 L20.75 22.42 L20.84 22.88 L20.94 23.34 L21.07 23.80 L21.21 24.25 L21.38 24.69 L21.58 25.13 L21.61 25.19 L21.58 25.15 L21.29 24.82 L20.99 24.51 L20.68 24.21 L20.35 23.92 L20.00 23.65 L19.64 23.40 L19.28 23.17 L18.90 22.95 L18.51 22.75 L18.11 22.58 L17.70 22.42 L17.28 22.28 L16.86 22.17 L16.44 22.07 L16.01 22.00 L15.57 21.94 L15.14 21.91 L14.70 21.90 L14.26 21.91 L13.83 21.94 L13.39 22.00 L12.96 22.07 L12.54 22.17 L12.12 22.28 L11.70 22.42 L11.29 22.58 L10.89 22.75 L10.50 22.95 L10.12 23.17 L9.76 23.40 L9.40 23.65 L9.05 23.92 L8.72 24.21 L8.41 24.51 L8.11 24.82 L7.82 25.15 L7.55 25.50 L7.30 25.86 L7.07 26.22 L6.85 26.60 L6.65 26.99 L6.48 27.39 L6.32 27.80 L6.18 28.22 L6.07 28.64 L5.97 29.06 L5.90 29.49 L5.84 29.93 L5.81 30.36 L5.80 30.80 L5.81 31.24 L5.84 31.67 L5.90 32.11 L5.97 32.54 L6.07 32.96 L6.18 33.38 L6.32 33.80 L6.48 34.21 L6.65 34.61 L6.85 35.00 L7.07 35.38 L7.30 35.74 L7.55 36.10 L7.82 36.45 L8.11 36.78 L8.41 37.09 L8.72 37.39 L9.05 37.68 L9.40 37.95 L9.76 38.20 L10.12 38.43 L10.50 38.65 L10.89 38.85 L11.29 39.02 L11.70 39.18 L12.12 39.32 L12.54 39.43 L12.96 39.53 L13.39 39.60 L13.83 39.66 L14.26 39.69 L14.70 39.70 L15.14 39.69 L15.57 39.66 L16.01 39.60 L16.44 39.53 L16.86 39.43 L17.28 39.32 L17.70 39.18 L18.11 39.02 L18.51 38.85 L18.90 38.65 L19.28 38.43 L19.64 38.20 L20.00 37.95 L20.35 37.68 L20.68 37.39 L20.74 37.33 L20.96 37.51 L21.37 37.80 L21.81 38.08 L22.26 38.34 L22.73 38.59 L23.22 38.82 L23.73 39.03 L24.25 39.23 L24.78 39.41 L25.33 39.58 L25.89 39.72 L26.46 39.85 L27.04 39.95 L27.62 40.04 L28.21 40.11 L28.80 40.16 L29.40 40.19 L30.00 40.20 L30.60 40.19 L31.20 40.16 L31.79 40.11 L32.38 40.04 L32.96 39.95 L33.54 39.85 L34.11 39.72 L34.67 39.58 L35.22 39.41 L35.75 39.23 L36.27 39.03 L36.78 38.82 L37.27 38.59 L37.74 38.34 L38.19 38.08 L38.63 37.80 L39.04 37.51 L39.43 37.20 L39.80 36.88 L40.14 36.56 L40.46 36.22 L40.76 35.87 L41.03 35.51 L41.27 35.14 L41.42 34.87 L41.43 34.88 L41.86 35.15 L42.29 35.40 L42.74 35.62 L43.20 35.82 L43.66 36.00 L44.14 36.16 L44.62 36.29 L45.11 36.40 L45.60 36.49 L46.10 36.55 L46.60 36.59 L47.10 36.60 L47.60 36.59 L48.10 36.55 L48.60 36.49 L49.09 36.40 L49.58 36.29 L50.06 36.16 L50.54 36.00 L51.00 35.82 L51.46 35.62 L51.91 35.40 L52.34 35.15 L52.77 34.88 L53.18 34.59 L53.57 34.28 L53.95 33.96 L54.31 33.61 L54.66 33.25 L54.98 32.87 L55.29 32.48 L55.58 32.07 L55.85 31.64 L56.10 31.21 L56.32 30.76 L56.52 30.30 L56.70 29.84 L56.86 29.36 L56.99 28.88 L57.10 28.39 L57.19 27.90 L57.25 27.40 L57.29 26.90 L57.30 26.40 L57.29 25.90 L57.25 25.40 L57.19 24.90 L57.10 24.41 L56.99 23.92 L56.86 23.44 L56.70 22.96 L56.52 22.50 L56.32 22.04 L56.10 21.59 L55.85 21.16 L55.58 20.73 L55.29 20.32 L54.98 19.93 L54.66 19.55 L54.31 19.19 L53.95 18.84 L53.57 18.52 L53.18 18.21 L52.77 17.92 L52.34 17.65 L51.91 17.40 L51.46 17.18 L51.00 16.98 L50.54 16.80 L50.06 16.64 L49.58 16.51 L49.09 16.40 L48.60 16.31 L48.10 16.25 L47.60 16.21 L47.10 16.20 L46.60 16.21 L46.10 16.25 L45.60 16.31 L45.11 16.40 L44.62 16.51 L44.14 16.64 L43.66 16.80 L43.20 16.98 L42.74 17.18 L42.29 17.40 L41.86 17.65 L41.43 17.92 L41.02 18.21 L40.63 18.52 L40.25 18.84 L39.89 19.19 L39.79 19.29 L39.76 19.12 L39.66 18.66Z" fill="#d9d9d9" stroke="#2f62b3" stroke-width="2.5" stroke-linejoin="round"/><path d="M44.57 27.11 L44.52 26.76 L44.46 26.41 L44.38 26.07 L44.29 25.72 L44.18 25.39 L44.05 25.06 L43.91 24.73 L43.75 24.41 L43.57 24.10 L43.38 23.80 L43.18 23.51 L42.96 23.24 L42.73 22.97 L42.48 22.71 L42.23 22.46 L41.96 22.23 L41.68 22.01 L41.39 21.81 L41.09 21.62 L40.78 21.45 L40.46 21.29 L40.14 21.14 L39.81 21.01 L39.47 20.90 L39.13 20.81 L38.78 20.73 L38.43 20.67 L38.08 20.63 L37.73 20.60 L37.37 20.59 L37.02 20.60 L36.66 20.63 L36.31 20.67 L35.96 20.73 L35.61 20.81 L35.27 20.90 L34.94 21.01 L34.60 21.14 L34.28 21.29 L33.96 21.45 L33.65 21.62 L33.35 21.81 L33.06 22.01 L32.78 22.23 L32.52 22.46 L32.26 22.71 L32.01 22.97 L31.78 23.24 L31.56 23.51 L31.36 23.80 L31.17 24.10 L30.99 24.41 L30.83 24.73 L30.69 25.06 L30.56 25.39 L30.45 25.72 L30.36 26.07 L30.28 26.41 L30.22 26.76 L30.18 27.11 L30.15 27.47 L30.14 27.82 L30.15 28.18 L30.18 28.53 L30.19 28.64 L30.02 28.51 L29.70 28.32 L29.38 28.13 L29.05 27.97 L28.71 27.82 L28.36 27.68 L28.01 27.57 L27.65 27.47 L27.29 27.39 L26.93 27.32 L26.56 27.28 L26.19 27.25 L25.82 27.24 L25.45 27.25 L25.08 27.28 L24.71 27.32 L24.34 27.39 L23.98 27.47 L23.62 27.57 L23.27 27.68 L22.92 27.82 L22.59 27.97 L22.25 28.13 L21.93 28.32 L21.62 28.51 L21.32 28.73 L21.02 28.96 L20.74 29.20 L20.47 29.45 L20.22 29.72 L19.97 30.00 L19.75 30.30 L19.53 30.60 L19.33 30.91 L19.15 31.24 L18.99 31.57 L18.83 31.91 L18.70 32.25 L18.58 32.60 L18.49 32.96 L18.40 33.32 L18.34 33.69 L18.30 34.06 L18.27 34.43 L18.26 34.80 L18.27 35.17 L18.30 35.54 L18.34 35.91 L18.40 36.27 L18.49 36.63 L18.58 36.99 L18.70 37.34 L18.83 37.69 L18.99 38.03 L19.15 38.36 L19.33 38.68 L19.53 39.00 L19.75 39.30 L19.97 39.59 L20.22 39.87 L20.47 40.14 L20.74 40.40 L21.02 40.64 L21.32 40.87 L21.62 41.08 L21.93 41.28 L22.25 41.46 L22.59 41.63 L22.92 41.78 L23.27 41.91 L23.62 42.03 L23.98 42.13 L24.34 42.21 L24.71 42.27 L25.08 42.32 L25.45 42.35 L25.82 42.36 L26.19 42.35 L26.56 42.32 L26.93 42.27 L27.29 42.21 L27.65 42.13 L28.01 42.03 L28.36 41.91 L28.71 41.78 L29.05 41.63 L29.38 41.46 L29.70 41.28 L30.02 41.08 L30.32 40.87 L30.61 40.64 L30.89 40.40 L31.16 40.14 L31.42 39.87 L31.66 39.59 L31.81 39.39 L31.85 39.43 L32.17 39.69 L32.51 39.94 L32.87 40.18 L33.26 40.41 L33.66 40.63 L34.09 40.85 L34.54 41.05 L35.00 41.23 L35.49 41.41 L35.98 41.58 L36.50 41.73 L37.03 41.86 L37.56 41.99 L38.12 42.10 L38.68 42.20 L39.24 42.28 L39.82 42.34 L40.40 42.40 L40.99 42.43 L41.58 42.46 L42.17 42.46 L42.76 42.46 L43.35 42.43 L43.93 42.40 L44.51 42.34 L45.09 42.28 L45.66 42.20 L45.73 42.18 L45.74 42.19 L46.05 42.27 L46.36 42.34 L46.67 42.39 L46.98 42.43 L47.30 42.46 L47.62 42.46 L47.93 42.46 L48.25 42.43 L48.57 42.39 L48.88 42.34 L49.19 42.27 L49.49 42.19 L49.80 42.09 L50.09 41.97 L50.38 41.84 L50.67 41.70 L50.94 41.54 L51.21 41.37 L51.47 41.19 L51.72 41.00 L51.96 40.79 L52.19 40.57 L52.41 40.34 L52.62 40.10 L52.81 39.85 L52.99 39.59 L53.16 39.32 L53.32 39.05 L53.46 38.76 L53.59 38.47 L53.71 38.18 L53.81 37.87 L53.87 37.66 L53.96 37.43 L54.06 37.13 L54.14 36.83 L54.18 36.52 L54.19 36.22 L54.18 35.91 L54.14 35.60 L54.06 35.30 L54.03 35.21 L54.01 35.05 L53.96 34.74 L53.89 34.43 L53.81 34.12 L53.71 33.82 L53.59 33.52 L53.46 33.23 L53.32 32.95 L53.16 32.67 L52.99 32.40 L52.81 32.14 L52.62 31.89 L52.41 31.65 L52.19 31.42 L51.96 31.20 L51.72 31.00 L51.47 30.80 L51.21 30.62 L50.94 30.45 L50.67 30.29 L50.38 30.15 L50.09 30.02 L49.80 29.91 L49.49 29.81 L49.19 29.72 L48.88 29.65 L48.57 29.60 L48.25 29.56 L47.93 29.54 L47.62 29.53 L47.30 29.54 L46.98 29.56 L46.67 29.60 L46.36 29.65 L46.05 29.72 L45.74 29.81 L45.44 29.91 L45.14 30.02 L44.90 30.13 L44.51 30.09 L44.24 30.06 L44.29 29.92 L44.38 29.58 L44.46 29.23 L44.52 28.88 L44.57 28.53 L44.59 28.18 L44.60 27.82 L44.59 27.47 L44.57 27.11Z" fill="#fbfbfb" stroke="#2f62b3" stroke-width="2.5" stroke-linejoin="round"/><path d="M40.99 33.19 A7.194 7.194 0 0 1 46.62 28.87" fill="none" stroke="#2f62b3" stroke-width="2.5" stroke-linecap="round"/></g><g transform="translate(1063.31,133)"><path d="M39.66 18.66 L39.53 18.20 L39.39 17.75 L39.22 17.31 L39.02 16.87 L38.81 16.45 L38.58 16.04 L38.32 15.64 L38.05 15.25 L37.76 14.88 L37.45 14.52 L37.12 14.18 L36.78 13.85 L36.42 13.54 L36.05 13.25 L35.66 12.98 L35.26 12.72 L34.85 12.49 L34.43 12.28 L33.99 12.08 L33.55 11.91 L33.10 11.77 L32.64 11.64 L32.18 11.54 L31.72 11.45 L31.25 11.40 L30.77 11.36 L30.30 11.35 L29.83 11.36 L29.35 11.40 L28.88 11.45 L28.42 11.54 L27.96 11.64 L27.50 11.77 L27.05 11.91 L26.61 12.08 L26.17 12.28 L25.75 12.49 L25.34 12.72 L24.94 12.98 L24.55 13.25 L24.18 13.54 L23.82 13.85 L23.48 14.18 L23.15 14.52 L22.84 14.88 L22.55 15.25 L22.28 15.64 L22.02 16.04 L21.79 16.45 L21.58 16.87 L21.38 17.31 L21.21 17.75 L21.07 18.20 L20.94 18.66 L20.84 19.12 L20.75 19.58 L20.70 20.05 L20.66 20.53 L20.65 21.00 L20.66 21.47 L20.70 21.95 L20.75 22.42 L20.84 22.88 L20.94 23.34 L21.07 23.80 L21.21 24.25 L21.38 24.69 L21.58 25.13 L21.61 25.19 L21.58 25.15 L21.29 24.82 L20.99 24.51 L20.68 24.21 L20.35 23.92 L20.00 23.65 L19.64 23.40 L19.28 23.17 L18.90 22.95 L18.51 22.75 L18.11 22.58 L17.70 22.42 L17.28 22.28 L16.86 22.17 L16.44 22.07 L16.01 22.00 L15.57 21.94 L15.14 21.91 L14.70 21.90 L14.26 21.91 L13.83 21.94 L13.39 22.00 L12.96 22.07 L12.54 22.17 L12.12 22.28 L11.70 22.42 L11.29 22.58 L10.89 22.75 L10.50 22.95 L10.12 23.17 L9.76 23.40 L9.40 23.65 L9.05 23.92 L8.72 24.21 L8.41 24.51 L8.11 24.82 L7.82 25.15 L7.55 25.50 L7.30 25.86 L7.07 26.22 L6.85 26.60 L6.65 26.99 L6.48 27.39 L6.32 27.80 L6.18 28.22 L6.07 28.64 L5.97 29.06 L5.90 29.49 L5.84 29.93 L5.81 30.36 L5.80 30.80 L5.81 31.24 L5.84 31.67 L5.90 32.11 L5.97 32.54 L6.07 32.96 L6.18 33.38 L6.32 33.80 L6.48 34.21 L6.65 34.61 L6.85 35.00 L7.07 35.38 L7.30 35.74 L7.55 36.10 L7.82 36.45 L8.11 36.78 L8.41 37.09 L8.72 37.39 L9.05 37.68 L9.40 37.95 L9.76 38.20 L10.12 38.43 L10.50 38.65 L10.89 38.85 L11.29 39.02 L11.70 39.18 L12.12 39.32 L12.54 39.43 L12.96 39.53 L13.39 39.60 L13.83 39.66 L14.26 39.69 L14.70 39.70 L15.14 39.69 L15.57 39.66 L16.01 39.60 L16.44 39.53 L16.86 39.43 L17.28 39.32 L17.70 39.18 L18.11 39.02 L18.51 38.85 L18.90 38.65 L19.28 38.43 L19.64 38.20 L20.00 37.95 L20.35 37.68 L20.68 37.39 L20.74 37.33 L20.96 37.51 L21.37 37.80 L21.81 38.08 L22.26 38.34 L22.73 38.59 L23.22 38.82 L23.73 39.03 L24.25 39.23 L24.78 39.41 L25.33 39.58 L25.89 39.72 L26.46 39.85 L27.04 39.95 L27.62 40.04 L28.21 40.11 L28.80 40.16 L29.40 40.19 L30.00 40.20 L30.60 40.19 L31.20 40.16 L31.79 40.11 L32.38 40.04 L32.96 39.95 L33.54 39.85 L34.11 39.72 L34.67 39.58 L35.22 39.41 L35.75 39.23 L36.27 39.03 L36.78 38.82 L37.27 38.59 L37.74 38.34 L38.19 38.08 L38.63 37.80 L39.04 37.51 L39.43 37.20 L39.80 36.88 L40.14 36.56 L40.46 36.22 L40.76 35.87 L41.03 35.51 L41.27 35.14 L41.42 34.87 L41.43 34.88 L41.86 35.15 L42.29 35.40 L42.74 35.62 L43.20 35.82 L43.66 36.00 L44.14 36.16 L44.62 36.29 L45.11 36.40 L45.60 36.49 L46.10 36.55 L46.60 36.59 L47.10 36.60 L47.60 36.59 L48.10 36.55 L48.60 36.49 L49.09 36.40 L49.58 36.29 L50.06 36.16 L50.54 36.00 L51.00 35.82 L51.46 35.62 L51.91 35.40 L52.34 35.15 L52.77 34.88 L53.18 34.59 L53.57 34.28 L53.95 33.96 L54.31 33.61 L54.66 33.25 L54.98 32.87 L55.29 32.48 L55.58 32.07 L55.85 31.64 L56.10 31.21 L56.32 30.76 L56.52 30.30 L56.70 29.84 L56.86 29.36 L56.99 28.88 L57.10 28.39 L57.19 27.90 L57.25 27.40 L57.29 26.90 L57.30 26.40 L57.29 25.90 L57.25 25.40 L57.19 24.90 L57.10 24.41 L56.99 23.92 L56.86 23.44 L56.70 22.96 L56.52 22.50 L56.32 22.04 L56.10 21.59 L55.85 21.16 L55.58 20.73 L55.29 20.32 L54.98 19.93 L54.66 19.55 L54.31 19.19 L53.95 18.84 L53.57 18.52 L53.18 18.21 L52.77 17.92 L52.34 17.65 L51.91 17.40 L51.46 17.18 L51.00 16.98 L50.54 16.80 L50.06 16.64 L49.58 16.51 L49.09 16.40 L48.60 16.31 L48.10 16.25 L47.60 16.21 L47.10 16.20 L46.60 16.21 L46.10 16.25 L45.60 16.31 L45.11 16.40 L44.62 16.51 L44.14 16.64 L43.66 16.80 L43.20 16.98 L42.74 17.18 L42.29 17.40 L41.86 17.65 L41.43 17.92 L41.02 18.21 L40.63 18.52 L40.25 18.84 L39.89 19.19 L39.79 19.29 L39.76 19.12 L39.66 18.66Z" fill="#d9d9d9" stroke="#2f62b3" stroke-width="2.5" stroke-linejoin="round"/><path d="M44.57 27.11 L44.52 26.76 L44.46 26.41 L44.38 26.07 L44.29 25.72 L44.18 25.39 L44.05 25.06 L43.91 24.73 L43.75 24.41 L43.57 24.10 L43.38 23.80 L43.18 23.51 L42.96 23.24 L42.73 22.97 L42.48 22.71 L42.23 22.46 L41.96 22.23 L41.68 22.01 L41.39 21.81 L41.09 21.62 L40.78 21.45 L40.46 21.29 L40.14 21.14 L39.81 21.01 L39.47 20.90 L39.13 20.81 L38.78 20.73 L38.43 20.67 L38.08 20.63 L37.73 20.60 L37.37 20.59 L37.02 20.60 L36.66 20.63 L36.31 20.67 L35.96 20.73 L35.61 20.81 L35.27 20.90 L34.94 21.01 L34.60 21.14 L34.28 21.29 L33.96 21.45 L33.65 21.62 L33.35 21.81 L33.06 22.01 L32.78 22.23 L32.52 22.46 L32.26 22.71 L32.01 22.97 L31.78 23.24 L31.56 23.51 L31.36 23.80 L31.17 24.10 L30.99 24.41 L30.83 24.73 L30.69 25.06 L30.56 25.39 L30.45 25.72 L30.36 26.07 L30.28 26.41 L30.22 26.76 L30.18 27.11 L30.15 27.47 L30.14 27.82 L30.15 28.18 L30.18 28.53 L30.19 28.64 L30.02 28.51 L29.70 28.32 L29.38 28.13 L29.05 27.97 L28.71 27.82 L28.36 27.68 L28.01 27.57 L27.65 27.47 L27.29 27.39 L26.93 27.32 L26.56 27.28 L26.19 27.25 L25.82 27.24 L25.45 27.25 L25.08 27.28 L24.71 27.32 L24.34 27.39 L23.98 27.47 L23.62 27.57 L23.27 27.68 L22.92 27.82 L22.59 27.97 L22.25 28.13 L21.93 28.32 L21.62 28.51 L21.32 28.73 L21.02 28.96 L20.74 29.20 L20.47 29.45 L20.22 29.72 L19.97 30.00 L19.75 30.30 L19.53 30.60 L19.33 30.91 L19.15 31.24 L18.99 31.57 L18.83 31.91 L18.70 32.25 L18.58 32.60 L18.49 32.96 L18.40 33.32 L18.34 33.69 L18.30 34.06 L18.27 34.43 L18.26 34.80 L18.27 35.17 L18.30 35.54 L18.34 35.91 L18.40 36.27 L18.49 36.63 L18.58 36.99 L18.70 37.34 L18.83 37.69 L18.99 38.03 L19.15 38.36 L19.33 38.68 L19.53 39.00 L19.75 39.30 L19.97 39.59 L20.22 39.87 L20.47 40.14 L20.74 40.40 L21.02 40.64 L21.32 40.87 L21.62 41.08 L21.93 41.28 L22.25 41.46 L22.59 41.63 L22.92 41.78 L23.27 41.91 L23.62 42.03 L23.98 42.13 L24.34 42.21 L24.71 42.27 L25.08 42.32 L25.45 42.35 L25.82 42.36 L26.19 42.35 L26.56 42.32 L26.93 42.27 L27.29 42.21 L27.65 42.13 L28.01 42.03 L28.36 41.91 L28.71 41.78 L29.05 41.63 L29.38 41.46 L29.70 41.28 L30.02 41.08 L30.32 40.87 L30.61 40.64 L30.89 40.40 L31.16 40.14 L31.42 39.87 L31.66 39.59 L31.81 39.39 L31.85 39.43 L32.17 39.69 L32.51 39.94 L32.87 40.18 L33.26 40.41 L33.66 40.63 L34.09 40.85 L34.54 41.05 L35.00 41.23 L35.49 41.41 L35.98 41.58 L36.50 41.73 L37.03 41.86 L37.56 41.99 L38.12 42.10 L38.68 42.20 L39.24 42.28 L39.82 42.34 L40.40 42.40 L40.99 42.43 L41.58 42.46 L42.17 42.46 L42.76 42.46 L43.35 42.43 L43.93 42.40 L44.51 42.34 L45.09 42.28 L45.66 42.20 L45.73 42.18 L45.74 42.19 L46.05 42.27 L46.36 42.34 L46.67 42.39 L46.98 42.43 L47.30 42.46 L47.62 42.46 L47.93 42.46 L48.25 42.43 L48.57 42.39 L48.88 42.34 L49.19 42.27 L49.49 42.19 L49.80 42.09 L50.09 41.97 L50.38 41.84 L50.67 41.70 L50.94 41.54 L51.21 41.37 L51.47 41.19 L51.72 41.00 L51.96 40.79 L52.19 40.57 L52.41 40.34 L52.62 40.10 L52.81 39.85 L52.99 39.59 L53.16 39.32 L53.32 39.05 L53.46 38.76 L53.59 38.47 L53.71 38.18 L53.81 37.87 L53.87 37.66 L53.96 37.43 L54.06 37.13 L54.14 36.83 L54.18 36.52 L54.19 36.22 L54.18 35.91 L54.14 35.60 L54.06 35.30 L54.03 35.21 L54.01 35.05 L53.96 34.74 L53.89 34.43 L53.81 34.12 L53.71 33.82 L53.59 33.52 L53.46 33.23 L53.32 32.95 L53.16 32.67 L52.99 32.40 L52.81 32.14 L52.62 31.89 L52.41 31.65 L52.19 31.42 L51.96 31.20 L51.72 31.00 L51.47 30.80 L51.21 30.62 L50.94 30.45 L50.67 30.29 L50.38 30.15 L50.09 30.02 L49.80 29.91 L49.49 29.81 L49.19 29.72 L48.88 29.65 L48.57 29.60 L48.25 29.56 L47.93 29.54 L47.62 29.53 L47.30 29.54 L46.98 29.56 L46.67 29.60 L46.36 29.65 L46.05 29.72 L45.74 29.81 L45.44 29.91 L45.14 30.02 L44.90 30.13 L44.51 30.09 L44.24 30.06 L44.29 29.92 L44.38 29.58 L44.46 29.23 L44.52 28.88 L44.57 28.53 L44.59 28.18 L44.60 27.82 L44.59 27.47 L44.57 27.11Z" fill="#fbfbfb" stroke="#2f62b3" stroke-width="2.5" stroke-linejoin="round"/><path d="M40.99 33.19 A7.194 7.194 0 0 1 46.62 28.87" fill="none" stroke="#2f62b3" stroke-width="2.5" stroke-linecap="round"/></g>
<rect x="69.5" y="417.5" width="1025.0" height="197.0" fill="#f9f9f9"/><clipPath id="tc"><rect x="69.5" y="417.5" width="1025.0" height="197.0"/></clipPath><g clip-path="url(#tc)"><polygon points="69.30,501.40 148.17,488.80 227.04,485.00 305.91,485.40 384.78,532.40 463.65,543.60 542.52,539.10 621.39,522.20 700.26,530.10 779.13,536.90 858.00,547.00 936.87,541.40 1015.74,522.70 1094.61,517.80 1094.61,587.80 1015.74,590.30 936.87,597.50 858.00,608.00 779.13,608.00 700.26,594.40 621.39,579.30 542.52,579.30 463.65,587.60 384.78,583.10 305.91,525.00 227.04,495.00 148.17,498.00 69.30,509.80" fill="rgb(100,149,237)" fill-opacity="0.5"/><polygon points="69.30,463.00 148.17,455.00 227.04,448.40 305.91,433.80 384.78,486.10 463.65,510.90 542.52,492.90 621.39,491.70 700.26,492.90 779.13,491.70 858.00,494.00 936.87,488.50 1015.74,480.30 1094.61,480.60 1094.61,550.60 1015.74,548.00 936.87,547.50 858.00,554.90 779.13,562.80 700.26,559.40 621.39,548.20 542.52,533.50 463.65,554.90 384.78,534.60 305.91,473.60 227.04,458.30 148.17,462.50 69.30,471.20" fill="rgb(50,205,50)" fill-opacity="0.38"/><line x1="69.5" x2="1094.5" y1="419.60" y2="419.60" stroke="rgba(128,128,128,0.33)" stroke-width="2"/><line x1="69.5" x2="1094.5" y1="492.00" y2="492.00" stroke="rgba(128,128,128,0.33)" stroke-width="2"/><line x1="227.04" x2="227.04" y1="417.5" y2="614.5" stroke="rgba(128,128,128,0.33)" stroke-width="2"/><line x1="384.78" x2="384.78" y1="417.5" y2="614.5" stroke="rgba(128,128,128,0.33)" stroke-width="2"/><line x1="542.52" x2="542.52" y1="417.5" y2="614.5" stroke="rgba(128,128,128,0.33)" stroke-width="2"/><line x1="700.26" x2="700.26" y1="417.5" y2="614.5" stroke="rgba(128,128,128,0.33)" stroke-width="2"/><line x1="858.00" x2="858.00" y1="417.5" y2="614.5" stroke="rgba(128,128,128,0.33)" stroke-width="2"/><line x1="1015.74" x2="1015.74" y1="417.5" y2="614.5" stroke="rgba(128,128,128,0.33)" stroke-width="2"/><line x1="69.5" x2="1094.5" y1="564.4" y2="564.4" stroke="#333" stroke-width="1.3"/><polyline points="69.30,466.90 148.17,458.40 227.04,453.50 305.91,453.60 384.78,510.90 463.65,533.20 542.52,513.20 621.39,519.30 700.26,527.20 779.13,527.00 858.00,524.90 936.87,518.60 1015.74,513.80 1094.61,515.60" fill="none" stroke="#ff0000" stroke-width="5" stroke-linejoin="round"/><polyline points="69.30,505.10 148.17,493.00 227.04,490.00 305.91,505.00 384.78,557.90 463.65,565.00 542.52,559.00 621.39,550.40 700.26,561.20 779.13,572.70 858.00,577.50 936.87,569.70 1015.74,556.50 1094.61,553.30" fill="none" stroke="#1e90ff" stroke-width="5" stroke-linejoin="round"/></g><line x1="69.5" x2="74.5" y1="607.84" y2="607.84" stroke="#222" stroke-width="1.2"/><line x1="69.5" x2="74.5" y1="593.36" y2="593.36" stroke="#222" stroke-width="1.2"/><line x1="69.5" x2="74.5" y1="578.88" y2="578.88" stroke="#222" stroke-width="1.2"/><line x1="69.5" x2="74.5" y1="549.92" y2="549.92" stroke="#222" stroke-width="1.2"/><line x1="69.5" x2="74.5" y1="535.44" y2="535.44" stroke="#222" stroke-width="1.2"/><line x1="69.5" x2="74.5" y1="520.96" y2="520.96" stroke="#222" stroke-width="1.2"/><line x1="69.5" x2="74.5" y1="506.48" y2="506.48" stroke="#222" stroke-width="1.2"/><line x1="69.5" x2="74.5" y1="477.52" y2="477.52" stroke="#222" stroke-width="1.2"/><line x1="69.5" x2="74.5" y1="463.04" y2="463.04" stroke="#222" stroke-width="1.2"/><line x1="69.5" x2="74.5" y1="448.56" y2="448.56" stroke="#222" stroke-width="1.2"/><line x1="69.5" x2="74.5" y1="434.08" y2="434.08" stroke="#222" stroke-width="1.2"/><rect x="69.5" y="417.5" width="1025.0" height="197.0" fill="none" stroke="#262626" stroke-width="1.1"/><text x="63.8" y="427.1" class="tl" text-anchor="end">20</text><text x="63.8" y="499.0" class="tl" text-anchor="end">10</text><text x="63.8" y="572.0" class="tl" text-anchor="end">0</text><text x="750" y="483.6" class="cp">© vreme.us &amp; vreme.pro</text>
<rect x="69.5" y="700.5" width="1025.0" height="197.0" fill="#f9f9f9"/><clipPath id="pc"><rect x="69.5" y="700.5" width="1025.0" height="197.0"/></clipPath><g clip-path="url(#pc)"><line x1="69.5" x2="1094.5" y1="710.00" y2="710.00" stroke="rgba(128,128,128,0.33)" stroke-width="2"/><line x1="69.5" x2="1094.5" y1="756.20" y2="756.20" stroke="rgba(128,128,128,0.33)" stroke-width="2"/><line x1="69.5" x2="1094.5" y1="802.90" y2="802.90" stroke="rgba(128,128,128,0.33)" stroke-width="2"/><line x1="69.5" x2="1094.5" y1="850.00" y2="850.00" stroke="rgba(128,128,128,0.33)" stroke-width="2"/><line x1="227.04" x2="227.04" y1="700.5" y2="897.5" stroke="rgba(128,128,128,0.33)" stroke-width="2"/><line x1="384.78" x2="384.78" y1="700.5" y2="897.5" stroke="rgba(128,128,128,0.33)" stroke-width="2"/><line x1="542.52" x2="542.52" y1="700.5" y2="897.5" stroke="rgba(128,128,128,0.33)" stroke-width="2"/><line x1="700.26" x2="700.26" y1="700.5" y2="897.5" stroke="rgba(128,128,128,0.33)" stroke-width="2"/><line x1="858.00" x2="858.00" y1="700.5" y2="897.5" stroke="rgba(128,128,128,0.33)" stroke-width="2"/><line x1="1015.74" x2="1015.74" y1="700.5" y2="897.5" stroke="rgba(128,128,128,0.33)" stroke-width="2"/><line x1="58.80" x2="79.80" y1="896.5" y2="896.5" stroke="#111" stroke-width="1.2"/><line x1="137.67" x2="158.67" y1="896.5" y2="896.5" stroke="#111" stroke-width="1.2"/><rect x="201.04" y="857.8" width="52" height="39.70" fill="#0055ff"/><line x1="227.04" x2="227.04" y1="831.4" y2="885.2" stroke="#808080" stroke-width="3"/><line x1="217.04" x2="237.04" y1="831.4" y2="831.4" stroke="#808080" stroke-width="3"/><line x1="217.04" x2="237.04" y1="885.2" y2="885.2" stroke="#808080" stroke-width="3"/><rect x="279.91" y="856.9" width="52" height="40.60" fill="#0055ff"/><line x1="305.91" x2="305.91" y1="759.2" y2="899.5" stroke="#808080" stroke-width="3"/><line x1="295.91" x2="315.91" y1="759.2" y2="759.2" stroke="#808080" stroke-width="3"/><rect x="358.78" y="840.8" width="52" height="56.70" fill="#0055ff"/><line x1="384.78" x2="384.78" y1="766.4" y2="899.5" stroke="#808080" stroke-width="3"/><line x1="374.78" x2="394.78" y1="766.4" y2="766.4" stroke="#808080" stroke-width="3"/><line x1="453.15" x2="474.15" y1="896.5" y2="896.5" stroke="#111" stroke-width="1.2"/><rect x="516.52" y="872.8" width="52" height="24.70" fill="#0055ff"/><line x1="542.52" x2="542.52" y1="824.2" y2="899.5" stroke="#808080" stroke-width="3"/><line x1="532.52" x2="552.52" y1="824.2" y2="824.2" stroke="#808080" stroke-width="3"/><rect x="595.39" y="813.9" width="52" height="83.60" fill="#0055ff"/><line x1="621.39" x2="621.39" y1="713.1" y2="899.5" stroke="#808080" stroke-width="3"/><line x1="611.39" x2="631.39" y1="713.1" y2="713.1" stroke="#808080" stroke-width="3"/><rect x="674.26" y="841.1" width="52" height="56.40" fill="#0055ff"/><line x1="700.26" x2="700.26" y1="766.4" y2="899.5" stroke="#808080" stroke-width="3"/><line x1="690.26" x2="710.26" y1="766.4" y2="766.4" stroke="#808080" stroke-width="3"/><rect x="753.13" y="857.8" width="52" height="39.70" fill="#0055ff"/><line x1="779.13" x2="779.13" y1="788.3" y2="899.5" stroke="#808080" stroke-width="3"/><line x1="769.13" x2="789.13" y1="788.3" y2="788.3" stroke="#808080" stroke-width="3"/><line x1="847.50" x2="868.50" y1="896.5" y2="896.5" stroke="#111" stroke-width="1.2"/><line x1="926.37" x2="947.37" y1="896.5" y2="896.5" stroke="#111" stroke-width="1.2"/><line x1="1005.24" x2="1026.24" y1="896.5" y2="896.5" stroke="#111" stroke-width="1.2"/><line x1="1084.11" x2="1105.11" y1="896.5" y2="896.5" stroke="#111" stroke-width="1.2"/></g><rect x="69.5" y="700.5" width="1025.0" height="197.0" fill="none" stroke="#262626" stroke-width="1.1"/><text x="65.2" y="705.8" class="tl" text-anchor="end">40</text><text x="64.2" y="764.2" class="tl" text-anchor="end">30</text><text x="64.2" y="811.2" class="tl" text-anchor="end">20</text><text x="64.2" y="858.2" class="tl" text-anchor="end">10</text><text x="65.6" y="892.9" class="tl" text-anchor="end">0</text>
</svg>
<div class="c d" style="left:30.10px;color:#000">pet<br>14.11</div><div class="c t" style="left:30.10px"><span style="color:#cc0000">13°</span><br><span style="color:#1e90ff">8°</span></div><div class="c pd" style="left:30.10px">pet</div><div class="c pp" style="left:30.10px;color:#50d2e2">5%</div><div class="c d" style="left:108.90px;color:#cc0000">sob<br>15.11</div><div class="c t" style="left:108.90px"><span style="color:#cc0000">14°</span><br><span style="color:#1e90ff">10°</span></div><div class="c pd" style="left:108.90px">sob</div><div class="c pp" style="left:108.90px;color:#50d2e2">10%</div><div class="c d" style="left:187.70px;color:#cc0000">ned<br>16.11</div><div class="c t" style="left:187.70px"><span style="color:#cc0000">15°</span><br><span style="color:#1e90ff">10°</span></div><div class="c pd" style="left:187.70px">ned</div><div class="c pp" style="left:187.70px;color:#1763ba">75%</div><div class="c d" style="left:266.50px;color:#000">pon<br>17.11</div><div class="c t" style="left:266.50px"><span style="color:#cc0000">15°</span><br><span style="color:#1e90ff">8°</span></div><div class="c pd" style="left:266.50px">pon</div><div class="c pp" style="left:266.50px;color:#1763ba">90%</div><div class="c d" style="left:345.30px;color:#000">tor<br>18.11</div><div class="c t" style="left:345.30px"><span style="color:#cc0000">7°</span><br><span style="color:#1e90ff">1°</span></div><div class="c pd" style="left:345.30px">tor</div><div class="c pp" style="left:345.30px;color:#1763ba">60%</div><div class="c d" style="left:424.10px;color:#000">sre<br>19.11</div><div class="c t" style="left:424.10px"><span style="color:#cc0000">4°</span><br><span style="color:#1e90ff">0°</span></div><div class="c pd" style="left:424.10px">sre</div><div class="c pp" style="left:424.10px;color:#2f9bd5">35%</div><div class="c d" style="left:502.90px;color:#000">čet<br>20.11</div><div class="c t" style="left:502.90px"><span style="color:#cc0000">7°</span><br><span style="color:#1e90ff">1°</span></div><div class="c pd" style="left:502.90px">čet</div><div class="c pp" style="left:502.90px;color:#1763ba">85%</div><div class="c d" style="left:581.70px;color:#000">pet<br>21.11</div><div class="c t" style="left:581.70px"><span style="color:#cc0000">6°</span><br><span style="color:#1e90ff">2°</span></div><div class="c pd" style="left:581.70px">pet</div><div class="c pp" style="left:581.70px;color:#1763ba">90%</div><div class="c d" style="left:660.50px;color:#cc0000">sob<br>22.11</div><div class="c t" style="left:660.50px"><span style="color:#cc0000">5°</span><br><span style="color:#1e90ff">0°</span></div><div class="c pd" style="left:660.50px">sob</div><div class="c pp" style="left:660.50px;color:#1763ba">70%</div><div class="c d" style="left:739.30px;color:#cc0000">ned<br>23.11</div><div class="c t" style="left:739.30px"><span style="color:#cc0000">5°</span><br><span style="color:#1e90ff">-1°</span></div><div class="c pd" style="left:739.30px">ned</div><div class="c pp" style="left:739.30px;color:#2f9bd5">50%</div><div class="c d" style="left:818.10px;color:#000">pon<br>24.11</div><div class="c t" style="left:818.10px"><span style="color:#cc0000">5°</span><br><span style="color:#1e90ff">-2°</span></div><div class="c pd" style="left:818.10px">pon</div><div class="c pp" style="left:818.10px;color:#2f9bd5">30%</div><div class="c d" style="left:896.90px;color:#000">tor<br>25.11</div><div class="c t" style="left:896.90px"><span style="color:#cc0000">6°</span><br><span style="color:#1e90ff">-1°</span></div><div class="c pd" style="left:896.90px">tor</div><div class="c pp" style="left:896.90px;color:#2f9bd5">30%</div><div class="c d" style="left:975.70px;color:#000">sre<br>26.11</div><div class="c t" style="left:975.70px"><span style="color:#cc0000">7°</span><br><span style="color:#1e90ff">1°</span></div><div class="c pd" style="left:975.70px">sre</div><div class="c pp" style="left:975.70px;color:#2f9bd5">30%</div><div class="c d" style="left:1054.50px;color:#000">čet<br>27.11</div><div class="c t" style="left:1054.50px"><span style="color:#cc0000">7°</span><br><span style="color:#1e90ff">2°</span></div><div class="c pd" style="left:1054.50px">čet</div><div class="c pp" style="left:1054.50px;color:#2f9bd5">30%</div>
</div>
</body></html>
